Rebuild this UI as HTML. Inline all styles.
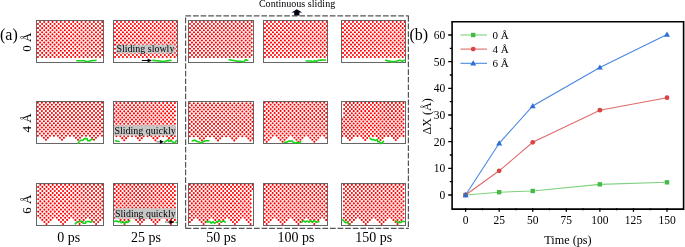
<!DOCTYPE html>
<html><head><meta charset="utf-8"><style>
html,body{margin:0;padding:0;background:#fff;}
body{width:685px;height:247px;overflow:hidden;}
svg{display:block;will-change:transform;font-family:"Liberation Serif", serif;}
</style></head><body>
<svg width="685" height="247" viewBox="0 0 685 247">
<style>.d{fill:none;stroke:#f00;stroke-width:2.1;stroke-linecap:round}.g{fill:none;stroke:#18d418;stroke-width:1.6;stroke-dasharray:1.8 0.6;stroke-linecap:round;stroke-linejoin:round}</style>
<rect x="36.5" y="20.5" width="67" height="42" fill="#fff"/>
<path class="d" d="M38 57h0M42.14 57h0M46.28 57h0M50.42 57h0M54.56 57h0M58.7 57h0M62.84 57h0M66.98 57h0M71.12 57h0M75.26 57h0M79.4 57h0M83.54 57h0M87.68 57h0M91.82 57h0M95.96 57h0M100.1 57h0M40.07 54.94h0M44.21 54.94h0M48.35 54.94h0M52.49 54.94h0M56.63 54.94h0M60.77 54.94h0M64.91 54.94h0M69.05 54.94h0M73.19 54.94h0M77.33 54.94h0M81.47 54.94h0M85.61 54.94h0M89.75 54.94h0M93.89 54.94h0M98.03 54.94h0M102.17 54.94h0M38 52.88h0M42.14 52.88h0M46.28 52.88h0M50.42 52.88h0M54.56 52.88h0M58.7 52.88h0M62.84 52.88h0M66.98 52.88h0M71.12 52.88h0M75.26 52.88h0M79.4 52.88h0M83.54 52.88h0M87.68 52.88h0M91.82 52.88h0M95.96 52.88h0M100.1 52.88h0M40.07 50.82h0M44.21 50.82h0M48.35 50.82h0M52.49 50.82h0M56.63 50.82h0M60.77 50.82h0M64.91 50.82h0M69.05 50.82h0M73.19 50.82h0M77.33 50.82h0M81.47 50.82h0M85.61 50.82h0M89.75 50.82h0M93.89 50.82h0M98.03 50.82h0M102.17 50.82h0M38 48.76h0M42.14 48.76h0M46.28 48.76h0M50.42 48.76h0M54.56 48.76h0M58.7 48.76h0M62.84 48.76h0M66.98 48.76h0M71.12 48.76h0M75.26 48.76h0M79.4 48.76h0M83.54 48.76h0M87.68 48.76h0M91.82 48.76h0M95.96 48.76h0M100.1 48.76h0M40.07 46.7h0M44.21 46.7h0M48.35 46.7h0M52.49 46.7h0M56.63 46.7h0M60.77 46.7h0M64.91 46.7h0M69.05 46.7h0M73.19 46.7h0M77.33 46.7h0M81.47 46.7h0M85.61 46.7h0M89.75 46.7h0M93.89 46.7h0M98.03 46.7h0M102.17 46.7h0M38 44.64h0M42.14 44.64h0M46.28 44.64h0M50.42 44.64h0M54.56 44.64h0M58.7 44.64h0M62.84 44.64h0M66.98 44.64h0M71.12 44.64h0M75.26 44.64h0M79.4 44.64h0M83.54 44.64h0M87.68 44.64h0M91.82 44.64h0M95.96 44.64h0M100.1 44.64h0M40.07 42.58h0M44.21 42.58h0M48.35 42.58h0M52.49 42.58h0M56.63 42.58h0M60.77 42.58h0M64.91 42.58h0M69.05 42.58h0M73.19 42.58h0M77.33 42.58h0M81.47 42.58h0M85.61 42.58h0M89.75 42.58h0M93.89 42.58h0M98.03 42.58h0M102.17 42.58h0M38 40.52h0M42.14 40.52h0M46.28 40.52h0M50.42 40.52h0M54.56 40.52h0M58.7 40.52h0M62.84 40.52h0M66.98 40.52h0M71.12 40.52h0M75.26 40.52h0M79.4 40.52h0M83.54 40.52h0M87.68 40.52h0M91.82 40.52h0M95.96 40.52h0M100.1 40.52h0M40.07 38.46h0M44.21 38.46h0M48.35 38.46h0M52.49 38.46h0M56.63 38.46h0M60.77 38.46h0M64.91 38.46h0M69.05 38.46h0M73.19 38.46h0M77.33 38.46h0M81.47 38.46h0M85.61 38.46h0M89.75 38.46h0M93.89 38.46h0M98.03 38.46h0M102.17 38.46h0M38 36.4h0M42.14 36.4h0M46.28 36.4h0M50.42 36.4h0M54.56 36.4h0M58.7 36.4h0M62.84 36.4h0M66.98 36.4h0M71.12 36.4h0M75.26 36.4h0M79.4 36.4h0M83.54 36.4h0M87.68 36.4h0M91.82 36.4h0M95.96 36.4h0M100.1 36.4h0M40.07 34.34h0M44.21 34.34h0M48.35 34.34h0M52.49 34.34h0M56.63 34.34h0M60.77 34.34h0M64.91 34.34h0M69.05 34.34h0M73.19 34.34h0M77.33 34.34h0M81.47 34.34h0M85.61 34.34h0M89.75 34.34h0M93.89 34.34h0M98.03 34.34h0M102.17 34.34h0M38 32.28h0M42.14 32.28h0M46.28 32.28h0M50.42 32.28h0M54.56 32.28h0M58.7 32.28h0M62.84 32.28h0M66.98 32.28h0M71.12 32.28h0M75.26 32.28h0M79.4 32.28h0M83.54 32.28h0M87.68 32.28h0M91.82 32.28h0M95.96 32.28h0M100.1 32.28h0M40.07 30.22h0M44.21 30.22h0M48.35 30.22h0M52.49 30.22h0M56.63 30.22h0M60.77 30.22h0M64.91 30.22h0M69.05 30.22h0M73.19 30.22h0M77.33 30.22h0M81.47 30.22h0M85.61 30.22h0M89.75 30.22h0M93.89 30.22h0M98.03 30.22h0M102.17 30.22h0M38 28.16h0M42.14 28.16h0M46.28 28.16h0M50.42 28.16h0M54.56 28.16h0M58.7 28.16h0M62.84 28.16h0M66.98 28.16h0M71.12 28.16h0M75.26 28.16h0M79.4 28.16h0M83.54 28.16h0M87.68 28.16h0M91.82 28.16h0M95.96 28.16h0M100.1 28.16h0M40.07 26.1h0M44.21 26.1h0M48.35 26.1h0M52.49 26.1h0M56.63 26.1h0M60.77 26.1h0M64.91 26.1h0M69.05 26.1h0M73.19 26.1h0M77.33 26.1h0M81.47 26.1h0M85.61 26.1h0M89.75 26.1h0M93.89 26.1h0M98.03 26.1h0M102.17 26.1h0M38 24.04h0M42.14 24.04h0M46.28 24.04h0M50.42 24.04h0M54.56 24.04h0M58.7 24.04h0M62.84 24.04h0M66.98 24.04h0M71.12 24.04h0M75.26 24.04h0M79.4 24.04h0M83.54 24.04h0M87.68 24.04h0M91.82 24.04h0M95.96 24.04h0M100.1 24.04h0M40.07 21.98h0M44.21 21.98h0M48.35 21.98h0M52.49 21.98h0M56.63 21.98h0M60.77 21.98h0M64.91 21.98h0M69.05 21.98h0M73.19 21.98h0M77.33 21.98h0M81.47 21.98h0M85.61 21.98h0M89.75 21.98h0M93.89 21.98h0M98.03 21.98h0M102.17 21.98h0"/>
<rect x="36.5" y="20.5" width="67" height="42" fill="none" stroke="#666" stroke-width="1"/>
<rect x="113.5" y="20.5" width="64" height="42" fill="#fff"/>
<path class="d" d="M115 57h0M118.98 57h0M122.96 57h0M126.94 57h0M130.92 57h0M134.9 57h0M138.88 57h0M142.86 57h0M146.84 57h0M150.82 57h0M154.8 57h0M158.78 57h0M162.76 57h0M166.74 57h0M170.72 57h0M174.7 57h0M116.99 54.94h0M120.97 54.94h0M124.95 54.94h0M128.93 54.94h0M132.91 54.94h0M136.89 54.94h0M140.87 54.94h0M144.85 54.94h0M148.83 54.94h0M152.81 54.94h0M156.79 54.94h0M160.77 54.94h0M164.75 54.94h0M168.73 54.94h0M172.71 54.94h0M176.69 54.94h0M115 52.88h0M118.98 52.88h0M122.96 52.88h0M126.94 52.88h0M130.92 52.88h0M134.9 52.88h0M138.88 52.88h0M142.86 52.88h0M146.84 52.88h0M150.82 52.88h0M154.8 52.88h0M158.78 52.88h0M162.76 52.88h0M166.74 52.88h0M170.72 52.88h0M174.7 52.88h0M116.99 50.82h0M120.97 50.82h0M124.95 50.82h0M128.93 50.82h0M132.91 50.82h0M136.89 50.82h0M140.87 50.82h0M144.85 50.82h0M148.83 50.82h0M152.81 50.82h0M156.79 50.82h0M160.77 50.82h0M164.75 50.82h0M168.73 50.82h0M172.71 50.82h0M176.69 50.82h0M115 48.76h0M118.98 48.76h0M122.96 48.76h0M126.94 48.76h0M130.92 48.76h0M134.9 48.76h0M138.88 48.76h0M142.86 48.76h0M146.84 48.76h0M150.82 48.76h0M154.8 48.76h0M158.78 48.76h0M162.76 48.76h0M166.74 48.76h0M170.72 48.76h0M174.7 48.76h0M116.99 46.7h0M120.97 46.7h0M124.95 46.7h0M128.93 46.7h0M132.91 46.7h0M136.89 46.7h0M140.87 46.7h0M144.85 46.7h0M148.83 46.7h0M152.81 46.7h0M156.79 46.7h0M160.77 46.7h0M164.75 46.7h0M168.73 46.7h0M172.71 46.7h0M176.69 46.7h0M115 44.64h0M118.98 44.64h0M122.96 44.64h0M126.94 44.64h0M130.92 44.64h0M134.9 44.64h0M138.88 44.64h0M142.86 44.64h0M146.84 44.64h0M150.82 44.64h0M154.8 44.64h0M158.78 44.64h0M162.76 44.64h0M166.74 44.64h0M170.72 44.64h0M174.7 44.64h0M116.99 42.58h0M120.97 42.58h0M124.95 42.58h0M128.93 42.58h0M132.91 42.58h0M136.89 42.58h0M140.87 42.58h0M144.85 42.58h0M148.83 42.58h0M152.81 42.58h0M156.79 42.58h0M160.77 42.58h0M164.75 42.58h0M168.73 42.58h0M172.71 42.58h0M176.69 42.58h0M115 40.52h0M118.98 40.52h0M122.96 40.52h0M126.94 40.52h0M130.92 40.52h0M134.9 40.52h0M138.88 40.52h0M142.86 40.52h0M146.84 40.52h0M150.82 40.52h0M154.8 40.52h0M158.78 40.52h0M162.76 40.52h0M166.74 40.52h0M170.72 40.52h0M174.7 40.52h0M116.99 38.46h0M120.97 38.46h0M124.95 38.46h0M128.93 38.46h0M132.91 38.46h0M136.89 38.46h0M140.87 38.46h0M144.85 38.46h0M148.83 38.46h0M152.81 38.46h0M156.79 38.46h0M160.77 38.46h0M164.75 38.46h0M168.73 38.46h0M172.71 38.46h0M176.69 38.46h0M115 36.4h0M118.98 36.4h0M122.96 36.4h0M126.94 36.4h0M130.92 36.4h0M134.9 36.4h0M138.88 36.4h0M142.86 36.4h0M146.84 36.4h0M150.82 36.4h0M154.8 36.4h0M158.78 36.4h0M162.76 36.4h0M166.74 36.4h0M170.72 36.4h0M174.7 36.4h0M116.99 34.34h0M120.97 34.34h0M124.95 34.34h0M128.93 34.34h0M132.91 34.34h0M136.89 34.34h0M140.87 34.34h0M144.85 34.34h0M148.83 34.34h0M152.81 34.34h0M156.79 34.34h0M160.77 34.34h0M164.75 34.34h0M168.73 34.34h0M172.71 34.34h0M176.69 34.34h0M115 32.28h0M118.98 32.28h0M122.96 32.28h0M126.94 32.28h0M130.92 32.28h0M134.9 32.28h0M138.88 32.28h0M142.86 32.28h0M146.84 32.28h0M150.82 32.28h0M154.8 32.28h0M158.78 32.28h0M162.76 32.28h0M166.74 32.28h0M170.72 32.28h0M174.7 32.28h0M116.99 30.22h0M120.97 30.22h0M124.95 30.22h0M128.93 30.22h0M132.91 30.22h0M136.89 30.22h0M140.87 30.22h0M144.85 30.22h0M148.83 30.22h0M152.81 30.22h0M156.79 30.22h0M160.77 30.22h0M164.75 30.22h0M168.73 30.22h0M172.71 30.22h0M176.69 30.22h0M115 28.16h0M118.98 28.16h0M122.96 28.16h0M126.94 28.16h0M130.92 28.16h0M134.9 28.16h0M138.88 28.16h0M142.86 28.16h0M146.84 28.16h0M150.82 28.16h0M154.8 28.16h0M158.78 28.16h0M162.76 28.16h0M166.74 28.16h0M170.72 28.16h0M174.7 28.16h0M116.99 26.1h0M120.97 26.1h0M124.95 26.1h0M128.93 26.1h0M132.91 26.1h0M136.89 26.1h0M140.87 26.1h0M144.85 26.1h0M148.83 26.1h0M152.81 26.1h0M156.79 26.1h0M160.77 26.1h0M164.75 26.1h0M168.73 26.1h0M172.71 26.1h0M176.69 26.1h0M115 24.04h0M118.98 24.04h0M122.96 24.04h0M126.94 24.04h0M130.92 24.04h0M134.9 24.04h0M138.88 24.04h0M142.86 24.04h0M146.84 24.04h0M150.82 24.04h0M154.8 24.04h0M158.78 24.04h0M162.76 24.04h0M166.74 24.04h0M170.72 24.04h0M174.7 24.04h0M116.99 21.98h0M120.97 21.98h0M124.95 21.98h0M128.93 21.98h0M132.91 21.98h0M136.89 21.98h0M140.87 21.98h0M144.85 21.98h0M148.83 21.98h0M152.81 21.98h0M156.79 21.98h0M160.77 21.98h0M164.75 21.98h0M168.73 21.98h0M172.71 21.98h0M176.69 21.98h0"/>
<rect x="113.5" y="20.5" width="64" height="42" fill="none" stroke="#666" stroke-width="1"/>
<rect x="188.5" y="20.5" width="65" height="42" fill="#fff"/>
<path class="d" d="M190 57h0M193.98 57h0M197.96 57h0M201.94 57h0M205.92 57h0M209.9 57h0M213.88 57h0M217.86 57h0M221.84 57h0M225.82 57h0M229.8 57h0M233.78 57h0M237.76 57h0M241.74 57h0M245.72 57h0M249.7 57h0M191.99 54.94h0M195.97 54.94h0M199.95 54.94h0M203.93 54.94h0M207.91 54.94h0M211.89 54.94h0M215.87 54.94h0M219.85 54.94h0M223.83 54.94h0M227.81 54.94h0M231.79 54.94h0M235.77 54.94h0M239.75 54.94h0M243.73 54.94h0M247.71 54.94h0M251.69 54.94h0M190 52.88h0M193.98 52.88h0M197.96 52.88h0M201.94 52.88h0M205.92 52.88h0M209.9 52.88h0M213.88 52.88h0M217.86 52.88h0M221.84 52.88h0M225.82 52.88h0M229.8 52.88h0M233.78 52.88h0M237.76 52.88h0M241.74 52.88h0M245.72 52.88h0M249.7 52.88h0M191.99 50.82h0M195.97 50.82h0M199.95 50.82h0M203.93 50.82h0M207.91 50.82h0M211.89 50.82h0M215.87 50.82h0M219.85 50.82h0M223.83 50.82h0M227.81 50.82h0M231.79 50.82h0M235.77 50.82h0M239.75 50.82h0M243.73 50.82h0M247.71 50.82h0M251.69 50.82h0M190 48.76h0M193.98 48.76h0M197.96 48.76h0M201.94 48.76h0M205.92 48.76h0M209.9 48.76h0M213.88 48.76h0M217.86 48.76h0M221.84 48.76h0M225.82 48.76h0M229.8 48.76h0M233.78 48.76h0M237.76 48.76h0M241.74 48.76h0M245.72 48.76h0M249.7 48.76h0M191.99 46.7h0M195.97 46.7h0M199.95 46.7h0M203.93 46.7h0M207.91 46.7h0M211.89 46.7h0M215.87 46.7h0M219.85 46.7h0M223.83 46.7h0M227.81 46.7h0M231.79 46.7h0M235.77 46.7h0M239.75 46.7h0M243.73 46.7h0M247.71 46.7h0M251.69 46.7h0M190 44.64h0M193.98 44.64h0M197.96 44.64h0M201.94 44.64h0M205.92 44.64h0M209.9 44.64h0M213.88 44.64h0M217.86 44.64h0M221.84 44.64h0M225.82 44.64h0M229.8 44.64h0M233.78 44.64h0M237.76 44.64h0M241.74 44.64h0M245.72 44.64h0M249.7 44.64h0M191.99 42.58h0M195.97 42.58h0M199.95 42.58h0M203.93 42.58h0M207.91 42.58h0M211.89 42.58h0M215.87 42.58h0M219.85 42.58h0M223.83 42.58h0M227.81 42.58h0M231.79 42.58h0M235.77 42.58h0M239.75 42.58h0M243.73 42.58h0M247.71 42.58h0M251.69 42.58h0M190 40.52h0M193.98 40.52h0M197.96 40.52h0M201.94 40.52h0M205.92 40.52h0M209.9 40.52h0M213.88 40.52h0M217.86 40.52h0M221.84 40.52h0M225.82 40.52h0M229.8 40.52h0M233.78 40.52h0M237.76 40.52h0M241.74 40.52h0M245.72 40.52h0M249.7 40.52h0M191.99 38.46h0M195.97 38.46h0M199.95 38.46h0M203.93 38.46h0M207.91 38.46h0M211.89 38.46h0M215.87 38.46h0M219.85 38.46h0M223.83 38.46h0M227.81 38.46h0M231.79 38.46h0M235.77 38.46h0M239.75 38.46h0M243.73 38.46h0M247.71 38.46h0M251.69 38.46h0M190 36.4h0M193.98 36.4h0M197.96 36.4h0M201.94 36.4h0M205.92 36.4h0M209.9 36.4h0M213.88 36.4h0M217.86 36.4h0M221.84 36.4h0M225.82 36.4h0M229.8 36.4h0M233.78 36.4h0M237.76 36.4h0M241.74 36.4h0M245.72 36.4h0M249.7 36.4h0M191.99 34.34h0M195.97 34.34h0M199.95 34.34h0M203.93 34.34h0M207.91 34.34h0M211.89 34.34h0M215.87 34.34h0M219.85 34.34h0M223.83 34.34h0M227.81 34.34h0M231.79 34.34h0M235.77 34.34h0M239.75 34.34h0M243.73 34.34h0M247.71 34.34h0M251.69 34.34h0M190 32.28h0M193.98 32.28h0M197.96 32.28h0M201.94 32.28h0M205.92 32.28h0M209.9 32.28h0M213.88 32.28h0M217.86 32.28h0M221.84 32.28h0M225.82 32.28h0M229.8 32.28h0M233.78 32.28h0M237.76 32.28h0M241.74 32.28h0M245.72 32.28h0M249.7 32.28h0M191.99 30.22h0M195.97 30.22h0M199.95 30.22h0M203.93 30.22h0M207.91 30.22h0M211.89 30.22h0M215.87 30.22h0M219.85 30.22h0M223.83 30.22h0M227.81 30.22h0M231.79 30.22h0M235.77 30.22h0M239.75 30.22h0M243.73 30.22h0M247.71 30.22h0M251.69 30.22h0M190 28.16h0M193.98 28.16h0M197.96 28.16h0M201.94 28.16h0M205.92 28.16h0M209.9 28.16h0M213.88 28.16h0M217.86 28.16h0M221.84 28.16h0M225.82 28.16h0M229.8 28.16h0M233.78 28.16h0M237.76 28.16h0M241.74 28.16h0M245.72 28.16h0M249.7 28.16h0M191.99 26.1h0M195.97 26.1h0M199.95 26.1h0M203.93 26.1h0M207.91 26.1h0M211.89 26.1h0M215.87 26.1h0M219.85 26.1h0M223.83 26.1h0M227.81 26.1h0M231.79 26.1h0M235.77 26.1h0M239.75 26.1h0M243.73 26.1h0M247.71 26.1h0M251.69 26.1h0M190 24.04h0M193.98 24.04h0M197.96 24.04h0M201.94 24.04h0M205.92 24.04h0M209.9 24.04h0M213.88 24.04h0M217.86 24.04h0M221.84 24.04h0M225.82 24.04h0M229.8 24.04h0M233.78 24.04h0M237.76 24.04h0M241.74 24.04h0M245.72 24.04h0M249.7 24.04h0M191.99 21.98h0M195.97 21.98h0M199.95 21.98h0M203.93 21.98h0M207.91 21.98h0M211.89 21.98h0M215.87 21.98h0M219.85 21.98h0M223.83 21.98h0M227.81 21.98h0M231.79 21.98h0M235.77 21.98h0M239.75 21.98h0M243.73 21.98h0M247.71 21.98h0M251.69 21.98h0"/>
<rect x="188.5" y="20.5" width="65" height="42" fill="none" stroke="#666" stroke-width="1"/>
<rect x="263.5" y="20.5" width="64" height="42" fill="#fff"/>
<path class="d" d="M265 57h0M268.98 57h0M272.96 57h0M276.94 57h0M280.92 57h0M284.9 57h0M288.88 57h0M292.86 57h0M296.84 57h0M300.82 57h0M304.8 57h0M308.78 57h0M312.76 57h0M316.74 57h0M320.72 57h0M324.7 57h0M266.99 54.94h0M270.97 54.94h0M274.95 54.94h0M278.93 54.94h0M282.91 54.94h0M286.89 54.94h0M290.87 54.94h0M294.85 54.94h0M298.83 54.94h0M302.81 54.94h0M306.79 54.94h0M310.77 54.94h0M314.75 54.94h0M318.73 54.94h0M322.71 54.94h0M326.69 54.94h0M265 52.88h0M268.98 52.88h0M272.96 52.88h0M276.94 52.88h0M280.92 52.88h0M284.9 52.88h0M288.88 52.88h0M292.86 52.88h0M296.84 52.88h0M300.82 52.88h0M304.8 52.88h0M308.78 52.88h0M312.76 52.88h0M316.74 52.88h0M320.72 52.88h0M324.7 52.88h0M266.99 50.82h0M270.97 50.82h0M274.95 50.82h0M278.93 50.82h0M282.91 50.82h0M286.89 50.82h0M290.87 50.82h0M294.85 50.82h0M298.83 50.82h0M302.81 50.82h0M306.79 50.82h0M310.77 50.82h0M314.75 50.82h0M318.73 50.82h0M322.71 50.82h0M326.69 50.82h0M265 48.76h0M268.98 48.76h0M272.96 48.76h0M276.94 48.76h0M280.92 48.76h0M284.9 48.76h0M288.88 48.76h0M292.86 48.76h0M296.84 48.76h0M300.82 48.76h0M304.8 48.76h0M308.78 48.76h0M312.76 48.76h0M316.74 48.76h0M320.72 48.76h0M324.7 48.76h0M266.99 46.7h0M270.97 46.7h0M274.95 46.7h0M278.93 46.7h0M282.91 46.7h0M286.89 46.7h0M290.87 46.7h0M294.85 46.7h0M298.83 46.7h0M302.81 46.7h0M306.79 46.7h0M310.77 46.7h0M314.75 46.7h0M318.73 46.7h0M322.71 46.7h0M326.69 46.7h0M265 44.64h0M268.98 44.64h0M272.96 44.64h0M276.94 44.64h0M280.92 44.64h0M284.9 44.64h0M288.88 44.64h0M292.86 44.64h0M296.84 44.64h0M300.82 44.64h0M304.8 44.64h0M308.78 44.64h0M312.76 44.64h0M316.74 44.64h0M320.72 44.64h0M324.7 44.64h0M266.99 42.58h0M270.97 42.58h0M274.95 42.58h0M278.93 42.58h0M282.91 42.58h0M286.89 42.58h0M290.87 42.58h0M294.85 42.58h0M298.83 42.58h0M302.81 42.58h0M306.79 42.58h0M310.77 42.58h0M314.75 42.58h0M318.73 42.58h0M322.71 42.58h0M326.69 42.58h0M265 40.52h0M268.98 40.52h0M272.96 40.52h0M276.94 40.52h0M280.92 40.52h0M284.9 40.52h0M288.88 40.52h0M292.86 40.52h0M296.84 40.52h0M300.82 40.52h0M304.8 40.52h0M308.78 40.52h0M312.76 40.52h0M316.74 40.52h0M320.72 40.52h0M324.7 40.52h0M266.99 38.46h0M270.97 38.46h0M274.95 38.46h0M278.93 38.46h0M282.91 38.46h0M286.89 38.46h0M290.87 38.46h0M294.85 38.46h0M298.83 38.46h0M302.81 38.46h0M306.79 38.46h0M310.77 38.46h0M314.75 38.46h0M318.73 38.46h0M322.71 38.46h0M326.69 38.46h0M265 36.4h0M268.98 36.4h0M272.96 36.4h0M276.94 36.4h0M280.92 36.4h0M284.9 36.4h0M288.88 36.4h0M292.86 36.4h0M296.84 36.4h0M300.82 36.4h0M304.8 36.4h0M308.78 36.4h0M312.76 36.4h0M316.74 36.4h0M320.72 36.4h0M324.7 36.4h0M266.99 34.34h0M270.97 34.34h0M274.95 34.34h0M278.93 34.34h0M282.91 34.34h0M286.89 34.34h0M290.87 34.34h0M294.85 34.34h0M298.83 34.34h0M302.81 34.34h0M306.79 34.34h0M310.77 34.34h0M314.75 34.34h0M318.73 34.34h0M322.71 34.34h0M326.69 34.34h0M265 32.28h0M268.98 32.28h0M272.96 32.28h0M276.94 32.28h0M280.92 32.28h0M284.9 32.28h0M288.88 32.28h0M292.86 32.28h0M296.84 32.28h0M300.82 32.28h0M304.8 32.28h0M308.78 32.28h0M312.76 32.28h0M316.74 32.28h0M320.72 32.28h0M324.7 32.28h0M266.99 30.22h0M270.97 30.22h0M274.95 30.22h0M278.93 30.22h0M282.91 30.22h0M286.89 30.22h0M290.87 30.22h0M294.85 30.22h0M298.83 30.22h0M302.81 30.22h0M306.79 30.22h0M310.77 30.22h0M314.75 30.22h0M318.73 30.22h0M322.71 30.22h0M326.69 30.22h0M265 28.16h0M268.98 28.16h0M272.96 28.16h0M276.94 28.16h0M280.92 28.16h0M284.9 28.16h0M288.88 28.16h0M292.86 28.16h0M296.84 28.16h0M300.82 28.16h0M304.8 28.16h0M308.78 28.16h0M312.76 28.16h0M316.74 28.16h0M320.72 28.16h0M324.7 28.16h0M266.99 26.1h0M270.97 26.1h0M274.95 26.1h0M278.93 26.1h0M282.91 26.1h0M286.89 26.1h0M290.87 26.1h0M294.85 26.1h0M298.83 26.1h0M302.81 26.1h0M306.79 26.1h0M310.77 26.1h0M314.75 26.1h0M318.73 26.1h0M322.71 26.1h0M326.69 26.1h0M265 24.04h0M268.98 24.04h0M272.96 24.04h0M276.94 24.04h0M280.92 24.04h0M284.9 24.04h0M288.88 24.04h0M292.86 24.04h0M296.84 24.04h0M300.82 24.04h0M304.8 24.04h0M308.78 24.04h0M312.76 24.04h0M316.74 24.04h0M320.72 24.04h0M324.7 24.04h0M266.99 21.98h0M270.97 21.98h0M274.95 21.98h0M278.93 21.98h0M282.91 21.98h0M286.89 21.98h0M290.87 21.98h0M294.85 21.98h0M298.83 21.98h0M302.81 21.98h0M306.79 21.98h0M310.77 21.98h0M314.75 21.98h0M318.73 21.98h0M322.71 21.98h0M326.69 21.98h0"/>
<rect x="263.5" y="20.5" width="64" height="42" fill="none" stroke="#666" stroke-width="1"/>
<rect x="341.5" y="20.5" width="64" height="42" fill="#fff"/>
<path class="d" d="M343 57h0M346.98 57h0M350.96 57h0M354.94 57h0M358.92 57h0M362.9 57h0M366.88 57h0M370.86 57h0M374.84 57h0M378.82 57h0M382.8 57h0M386.78 57h0M390.76 57h0M394.74 57h0M398.72 57h0M402.7 57h0M344.99 54.94h0M348.97 54.94h0M352.95 54.94h0M356.93 54.94h0M360.91 54.94h0M364.89 54.94h0M368.87 54.94h0M372.85 54.94h0M376.83 54.94h0M380.81 54.94h0M384.79 54.94h0M388.77 54.94h0M392.75 54.94h0M396.73 54.94h0M400.71 54.94h0M404.69 54.94h0M343 52.88h0M346.98 52.88h0M350.96 52.88h0M354.94 52.88h0M358.92 52.88h0M362.9 52.88h0M366.88 52.88h0M370.86 52.88h0M374.84 52.88h0M378.82 52.88h0M382.8 52.88h0M386.78 52.88h0M390.76 52.88h0M394.74 52.88h0M398.72 52.88h0M402.7 52.88h0M344.99 50.82h0M348.97 50.82h0M352.95 50.82h0M356.93 50.82h0M360.91 50.82h0M364.89 50.82h0M368.87 50.82h0M372.85 50.82h0M376.83 50.82h0M380.81 50.82h0M384.79 50.82h0M388.77 50.82h0M392.75 50.82h0M396.73 50.82h0M400.71 50.82h0M404.69 50.82h0M343 48.76h0M346.98 48.76h0M350.96 48.76h0M354.94 48.76h0M358.92 48.76h0M362.9 48.76h0M366.88 48.76h0M370.86 48.76h0M374.84 48.76h0M378.82 48.76h0M382.8 48.76h0M386.78 48.76h0M390.76 48.76h0M394.74 48.76h0M398.72 48.76h0M402.7 48.76h0M344.99 46.7h0M348.97 46.7h0M352.95 46.7h0M356.93 46.7h0M360.91 46.7h0M364.89 46.7h0M368.87 46.7h0M372.85 46.7h0M376.83 46.7h0M380.81 46.7h0M384.79 46.7h0M388.77 46.7h0M392.75 46.7h0M396.73 46.7h0M400.71 46.7h0M404.69 46.7h0M343 44.64h0M346.98 44.64h0M350.96 44.64h0M354.94 44.64h0M358.92 44.64h0M362.9 44.64h0M366.88 44.64h0M370.86 44.64h0M374.84 44.64h0M378.82 44.64h0M382.8 44.64h0M386.78 44.64h0M390.76 44.64h0M394.74 44.64h0M398.72 44.64h0M402.7 44.64h0M344.99 42.58h0M348.97 42.58h0M352.95 42.58h0M356.93 42.58h0M360.91 42.58h0M364.89 42.58h0M368.87 42.58h0M372.85 42.58h0M376.83 42.58h0M380.81 42.58h0M384.79 42.58h0M388.77 42.58h0M392.75 42.58h0M396.73 42.58h0M400.71 42.58h0M404.69 42.58h0M343 40.52h0M346.98 40.52h0M350.96 40.52h0M354.94 40.52h0M358.92 40.52h0M362.9 40.52h0M366.88 40.52h0M370.86 40.52h0M374.84 40.52h0M378.82 40.52h0M382.8 40.52h0M386.78 40.52h0M390.76 40.52h0M394.74 40.52h0M398.72 40.52h0M402.7 40.52h0M344.99 38.46h0M348.97 38.46h0M352.95 38.46h0M356.93 38.46h0M360.91 38.46h0M364.89 38.46h0M368.87 38.46h0M372.85 38.46h0M376.83 38.46h0M380.81 38.46h0M384.79 38.46h0M388.77 38.46h0M392.75 38.46h0M396.73 38.46h0M400.71 38.46h0M404.69 38.46h0M343 36.4h0M346.98 36.4h0M350.96 36.4h0M354.94 36.4h0M358.92 36.4h0M362.9 36.4h0M366.88 36.4h0M370.86 36.4h0M374.84 36.4h0M378.82 36.4h0M382.8 36.4h0M386.78 36.4h0M390.76 36.4h0M394.74 36.4h0M398.72 36.4h0M402.7 36.4h0M344.99 34.34h0M348.97 34.34h0M352.95 34.34h0M356.93 34.34h0M360.91 34.34h0M364.89 34.34h0M368.87 34.34h0M372.85 34.34h0M376.83 34.34h0M380.81 34.34h0M384.79 34.34h0M388.77 34.34h0M392.75 34.34h0M396.73 34.34h0M400.71 34.34h0M404.69 34.34h0M343 32.28h0M346.98 32.28h0M350.96 32.28h0M354.94 32.28h0M358.92 32.28h0M362.9 32.28h0M366.88 32.28h0M370.86 32.28h0M374.84 32.28h0M378.82 32.28h0M382.8 32.28h0M386.78 32.28h0M390.76 32.28h0M394.74 32.28h0M398.72 32.28h0M402.7 32.28h0M344.99 30.22h0M348.97 30.22h0M352.95 30.22h0M356.93 30.22h0M360.91 30.22h0M364.89 30.22h0M368.87 30.22h0M372.85 30.22h0M376.83 30.22h0M380.81 30.22h0M384.79 30.22h0M388.77 30.22h0M392.75 30.22h0M396.73 30.22h0M400.71 30.22h0M404.69 30.22h0M343 28.16h0M346.98 28.16h0M350.96 28.16h0M354.94 28.16h0M358.92 28.16h0M362.9 28.16h0M366.88 28.16h0M370.86 28.16h0M374.84 28.16h0M378.82 28.16h0M382.8 28.16h0M386.78 28.16h0M390.76 28.16h0M394.74 28.16h0M398.72 28.16h0M402.7 28.16h0M344.99 26.1h0M348.97 26.1h0M352.95 26.1h0M356.93 26.1h0M360.91 26.1h0M364.89 26.1h0M368.87 26.1h0M372.85 26.1h0M376.83 26.1h0M380.81 26.1h0M384.79 26.1h0M388.77 26.1h0M392.75 26.1h0M396.73 26.1h0M400.71 26.1h0M404.69 26.1h0M343 24.04h0M346.98 24.04h0M350.96 24.04h0M354.94 24.04h0M358.92 24.04h0M362.9 24.04h0M366.88 24.04h0M370.86 24.04h0M374.84 24.04h0M378.82 24.04h0M382.8 24.04h0M386.78 24.04h0M390.76 24.04h0M394.74 24.04h0M398.72 24.04h0M402.7 24.04h0M344.99 21.98h0M348.97 21.98h0M352.95 21.98h0M356.93 21.98h0M360.91 21.98h0M364.89 21.98h0M368.87 21.98h0M372.85 21.98h0M376.83 21.98h0M380.81 21.98h0M384.79 21.98h0M388.77 21.98h0M392.75 21.98h0M396.73 21.98h0M400.71 21.98h0M404.69 21.98h0"/>
<rect x="341.5" y="20.5" width="64" height="42" fill="none" stroke="#666" stroke-width="1"/>
<rect x="36.5" y="101.5" width="67" height="42" fill="#fff"/>
<path class="d" d="M45.9 139.8h0M61.93 139.8h0M77.97 139.8h0M94 139.8h0M43.9 137.74h0M47.9 137.74h0M59.93 137.74h0M63.94 137.74h0M75.96 137.74h0M79.97 137.74h0M92 137.74h0M96 137.74h0M37.88 135.68h0M41.89 135.68h0M45.9 135.68h0M49.91 135.68h0M53.92 135.68h0M57.92 135.68h0M61.93 135.68h0M65.94 135.68h0M69.95 135.68h0M73.96 135.68h0M77.97 135.68h0M81.97 135.68h0M85.98 135.68h0M89.99 135.68h0M94 135.68h0M98.01 135.68h0M102.02 135.68h0M39.89 133.62h0M43.9 133.62h0M47.9 133.62h0M51.91 133.62h0M55.92 133.62h0M59.93 133.62h0M63.94 133.62h0M67.95 133.62h0M71.95 133.62h0M75.96 133.62h0M79.97 133.62h0M83.98 133.62h0M87.99 133.62h0M92 133.62h0M96 133.62h0M100.01 133.62h0M37.88 131.56h0M41.89 131.56h0M45.9 131.56h0M49.91 131.56h0M53.92 131.56h0M57.92 131.56h0M61.93 131.56h0M65.94 131.56h0M69.95 131.56h0M73.96 131.56h0M77.97 131.56h0M81.97 131.56h0M85.98 131.56h0M89.99 131.56h0M94 131.56h0M98.01 131.56h0M102.02 131.56h0M39.89 129.5h0M43.9 129.5h0M47.9 129.5h0M51.91 129.5h0M55.92 129.5h0M59.93 129.5h0M63.94 129.5h0M67.95 129.5h0M71.95 129.5h0M75.96 129.5h0M79.97 129.5h0M83.98 129.5h0M87.99 129.5h0M92 129.5h0M96 129.5h0M100.01 129.5h0M37.88 127.44h0M41.89 127.44h0M45.9 127.44h0M49.91 127.44h0M53.92 127.44h0M57.92 127.44h0M61.93 127.44h0M65.94 127.44h0M69.95 127.44h0M73.96 127.44h0M77.97 127.44h0M81.97 127.44h0M85.98 127.44h0M89.99 127.44h0M94 127.44h0M98.01 127.44h0M102.02 127.44h0M39.89 125.38h0M43.9 125.38h0M47.9 125.38h0M51.91 125.38h0M55.92 125.38h0M59.93 125.38h0M63.94 125.38h0M67.95 125.38h0M71.95 125.38h0M75.96 125.38h0M79.97 125.38h0M83.98 125.38h0M87.99 125.38h0M92 125.38h0M96 125.38h0M100.01 125.38h0M37.88 123.32h0M41.89 123.32h0M45.9 123.32h0M49.91 123.32h0M53.92 123.32h0M57.92 123.32h0M61.93 123.32h0M65.94 123.32h0M69.95 123.32h0M73.96 123.32h0M77.97 123.32h0M81.97 123.32h0M85.98 123.32h0M89.99 123.32h0M94 123.32h0M98.01 123.32h0M102.02 123.32h0M39.89 121.26h0M43.9 121.26h0M47.9 121.26h0M51.91 121.26h0M55.92 121.26h0M59.93 121.26h0M63.94 121.26h0M67.95 121.26h0M71.95 121.26h0M75.96 121.26h0M79.97 121.26h0M83.98 121.26h0M87.99 121.26h0M92 121.26h0M96 121.26h0M100.01 121.26h0M37.88 119.2h0M41.89 119.2h0M45.9 119.2h0M49.91 119.2h0M53.92 119.2h0M57.92 119.2h0M61.93 119.2h0M65.94 119.2h0M69.95 119.2h0M73.96 119.2h0M77.97 119.2h0M81.97 119.2h0M85.98 119.2h0M89.99 119.2h0M94 119.2h0M98.01 119.2h0M102.02 119.2h0M39.89 117.14h0M43.9 117.14h0M47.9 117.14h0M51.91 117.14h0M55.92 117.14h0M59.93 117.14h0M63.94 117.14h0M67.95 117.14h0M71.95 117.14h0M75.96 117.14h0M79.97 117.14h0M83.98 117.14h0M87.99 117.14h0M92 117.14h0M96 117.14h0M100.01 117.14h0M37.88 115.08h0M41.89 115.08h0M45.9 115.08h0M49.91 115.08h0M53.92 115.08h0M57.92 115.08h0M61.93 115.08h0M65.94 115.08h0M69.95 115.08h0M73.96 115.08h0M77.97 115.08h0M81.97 115.08h0M85.98 115.08h0M89.99 115.08h0M94 115.08h0M98.01 115.08h0M102.02 115.08h0M39.89 113.02h0M43.9 113.02h0M47.9 113.02h0M51.91 113.02h0M55.92 113.02h0M59.93 113.02h0M63.94 113.02h0M67.95 113.02h0M71.95 113.02h0M75.96 113.02h0M79.97 113.02h0M83.98 113.02h0M87.99 113.02h0M92 113.02h0M96 113.02h0M100.01 113.02h0M37.88 110.96h0M41.89 110.96h0M45.9 110.96h0M49.91 110.96h0M53.92 110.96h0M57.92 110.96h0M61.93 110.96h0M65.94 110.96h0M69.95 110.96h0M73.96 110.96h0M77.97 110.96h0M81.97 110.96h0M85.98 110.96h0M89.99 110.96h0M94 110.96h0M98.01 110.96h0M102.02 110.96h0M39.89 108.9h0M43.9 108.9h0M47.9 108.9h0M51.91 108.9h0M55.92 108.9h0M59.93 108.9h0M63.94 108.9h0M67.95 108.9h0M71.95 108.9h0M75.96 108.9h0M79.97 108.9h0M83.98 108.9h0M87.99 108.9h0M92 108.9h0M96 108.9h0M100.01 108.9h0M37.88 106.84h0M41.89 106.84h0M45.9 106.84h0M49.91 106.84h0M53.92 106.84h0M57.92 106.84h0M61.93 106.84h0M65.94 106.84h0M69.95 106.84h0M73.96 106.84h0M77.97 106.84h0M81.97 106.84h0M85.98 106.84h0M89.99 106.84h0M94 106.84h0M98.01 106.84h0M102.02 106.84h0M39.89 104.78h0M43.9 104.78h0M47.9 104.78h0M51.91 104.78h0M55.92 104.78h0M59.93 104.78h0M63.94 104.78h0M67.95 104.78h0M71.95 104.78h0M75.96 104.78h0M79.97 104.78h0M83.98 104.78h0M87.99 104.78h0M92 104.78h0M96 104.78h0M100.01 104.78h0M37.88 102.72h0M41.89 102.72h0M45.9 102.72h0M49.91 102.72h0M53.92 102.72h0M57.92 102.72h0M61.93 102.72h0M65.94 102.72h0M69.95 102.72h0M73.96 102.72h0M77.97 102.72h0M81.97 102.72h0M85.98 102.72h0M89.99 102.72h0M94 102.72h0M98.01 102.72h0M102.02 102.72h0"/>
<rect x="36.5" y="101.5" width="67" height="42" fill="none" stroke="#666" stroke-width="1"/>
<rect x="113.5" y="101.5" width="64" height="42" fill="#fff"/>
<path class="d" d="M124.2 140.2h0M139.8 140.2h0M155.4 140.2h0M171 140.2h0M122.25 138.14h0M126.15 138.14h0M137.85 138.14h0M141.75 138.14h0M153.45 138.14h0M157.35 138.14h0M169.05 138.14h0M172.95 138.14h0M116.4 136.08h0M120.3 136.08h0M124.2 136.08h0M128.1 136.08h0M132 136.08h0M135.9 136.08h0M139.8 136.08h0M143.7 136.08h0M147.6 136.08h0M151.5 136.08h0M155.4 136.08h0M159.3 136.08h0M163.2 136.08h0M167.1 136.08h0M171 136.08h0M174.9 136.08h0M114.45 134.02h0M118.35 134.02h0M122.25 134.02h0M126.15 134.02h0M130.05 134.02h0M133.95 134.02h0M137.85 134.02h0M141.75 134.02h0M145.65 134.02h0M149.55 134.02h0M153.45 134.02h0M157.35 134.02h0M161.25 134.02h0M165.15 134.02h0M169.05 134.02h0M172.95 134.02h0M116.4 131.96h0M120.3 131.96h0M124.2 131.96h0M128.1 131.96h0M132 131.96h0M135.9 131.96h0M139.8 131.96h0M143.7 131.96h0M147.6 131.96h0M151.5 131.96h0M155.4 131.96h0M159.3 131.96h0M163.2 131.96h0M167.1 131.96h0M171 131.96h0M174.9 131.96h0M114.45 129.9h0M118.35 129.9h0M122.25 129.9h0M126.15 129.9h0M130.05 129.9h0M133.95 129.9h0M137.85 129.9h0M141.75 129.9h0M145.65 129.9h0M149.55 129.9h0M153.45 129.9h0M157.35 129.9h0M161.25 129.9h0M165.15 129.9h0M169.05 129.9h0M172.95 129.9h0M116.4 127.84h0M120.3 127.84h0M124.2 127.84h0M128.1 127.84h0M132 127.84h0M135.9 127.84h0M139.8 127.84h0M143.7 127.84h0M147.6 127.84h0M151.5 127.84h0M155.4 127.84h0M159.3 127.84h0M163.2 127.84h0M167.1 127.84h0M171 127.84h0M174.9 127.84h0M114.45 125.78h0M118.35 125.78h0M122.25 125.78h0M126.15 125.78h0M130.05 125.78h0M133.95 125.78h0M137.85 125.78h0M141.75 125.78h0M145.65 125.78h0M149.55 125.78h0M153.45 125.78h0M157.35 125.78h0M161.25 125.78h0M165.15 125.78h0M169.05 125.78h0M172.95 125.78h0M116.4 123.72h0M120.3 123.72h0M124.2 123.72h0M128.1 123.72h0M132 123.72h0M135.9 123.72h0M139.8 123.72h0M143.7 123.72h0M147.6 123.72h0M151.5 123.72h0M155.4 123.72h0M159.3 123.72h0M163.2 123.72h0M167.1 123.72h0M171 123.72h0M174.9 123.72h0M114.45 121.66h0M118.35 121.66h0M122.25 121.66h0M126.15 121.66h0M130.05 121.66h0M133.95 121.66h0M137.85 121.66h0M141.75 121.66h0M145.65 121.66h0M149.55 121.66h0M153.45 121.66h0M157.35 121.66h0M161.25 121.66h0M165.15 121.66h0M169.05 121.66h0M172.95 121.66h0M116.4 119.6h0M120.3 119.6h0M124.2 119.6h0M128.1 119.6h0M132 119.6h0M135.9 119.6h0M139.8 119.6h0M143.7 119.6h0M147.6 119.6h0M151.5 119.6h0M155.4 119.6h0M159.3 119.6h0M163.2 119.6h0M167.1 119.6h0M171 119.6h0M174.9 119.6h0M114.45 117.54h0M118.35 117.54h0M122.25 117.54h0M126.15 117.54h0M130.05 117.54h0M133.95 117.54h0M137.85 117.54h0M141.75 117.54h0M145.65 117.54h0M149.55 117.54h0M153.45 117.54h0M157.35 117.54h0M161.25 117.54h0M165.15 117.54h0M169.05 117.54h0M172.95 117.54h0M116.4 115.48h0M120.3 115.48h0M124.2 115.48h0M128.1 115.48h0M132 115.48h0M135.9 115.48h0M139.8 115.48h0M143.7 115.48h0M147.6 115.48h0M151.5 115.48h0M155.4 115.48h0M159.3 115.48h0M163.2 115.48h0M167.1 115.48h0M171 115.48h0M174.9 115.48h0M114.45 113.42h0M118.35 113.42h0M122.25 113.42h0M126.15 113.42h0M130.05 113.42h0M133.95 113.42h0M137.85 113.42h0M141.75 113.42h0M145.65 113.42h0M149.55 113.42h0M153.45 113.42h0M157.35 113.42h0M161.25 113.42h0M165.15 113.42h0M169.05 113.42h0M172.95 113.42h0M116.4 111.36h0M120.3 111.36h0M124.2 111.36h0M128.1 111.36h0M132 111.36h0M135.9 111.36h0M139.8 111.36h0M143.7 111.36h0M147.6 111.36h0M151.5 111.36h0M155.4 111.36h0M159.3 111.36h0M163.2 111.36h0M167.1 111.36h0M171 111.36h0M174.9 111.36h0M114.45 109.3h0M118.35 109.3h0M122.25 109.3h0M126.15 109.3h0M130.05 109.3h0M133.95 109.3h0M137.85 109.3h0M141.75 109.3h0M145.65 109.3h0M149.55 109.3h0M153.45 109.3h0M157.35 109.3h0M161.25 109.3h0M165.15 109.3h0M169.05 109.3h0M172.95 109.3h0M116.4 107.24h0M120.3 107.24h0M124.2 107.24h0M128.1 107.24h0M132 107.24h0M135.9 107.24h0M139.8 107.24h0M143.7 107.24h0M147.6 107.24h0M151.5 107.24h0M155.4 107.24h0M159.3 107.24h0M163.2 107.24h0M167.1 107.24h0M171 107.24h0M174.9 107.24h0M114.45 105.18h0M118.35 105.18h0M122.25 105.18h0M126.15 105.18h0M130.05 105.18h0M133.95 105.18h0M137.85 105.18h0M141.75 105.18h0M145.65 105.18h0M149.55 105.18h0M153.45 105.18h0M157.35 105.18h0M161.25 105.18h0M165.15 105.18h0M169.05 105.18h0M172.95 105.18h0M116.4 103.12h0M120.3 103.12h0M124.2 103.12h0M128.1 103.12h0M132 103.12h0M135.9 103.12h0M139.8 103.12h0M143.7 103.12h0M147.6 103.12h0M151.5 103.12h0M155.4 103.12h0M159.3 103.12h0M163.2 103.12h0M167.1 103.12h0M171 103.12h0M174.9 103.12h0"/>
<rect x="113.5" y="101.5" width="64" height="42" fill="none" stroke="#666" stroke-width="1"/>
<rect x="188.5" y="101.5" width="65" height="42" fill="#fff"/>
<path class="d" d="M201.9 140.4h0M218.07 140.4h0M234.23 140.4h0M250.4 140.4h0M199.88 138.34h0M203.92 138.34h0M216.05 138.34h0M220.09 138.34h0M232.21 138.34h0M236.25 138.34h0M248.38 138.34h0M252.42 138.34h0M189.78 136.28h0M193.82 136.28h0M197.86 136.28h0M201.9 136.28h0M205.94 136.28h0M209.98 136.28h0M214.03 136.28h0M218.07 136.28h0M222.11 136.28h0M226.15 136.28h0M230.19 136.28h0M234.23 136.28h0M238.28 136.28h0M242.32 136.28h0M246.36 136.28h0M250.4 136.28h0M191.8 134.22h0M195.84 134.22h0M199.88 134.22h0M203.92 134.22h0M207.96 134.22h0M212 134.22h0M216.05 134.22h0M220.09 134.22h0M224.13 134.22h0M228.17 134.22h0M232.21 134.22h0M236.25 134.22h0M240.3 134.22h0M244.34 134.22h0M248.38 134.22h0M252.42 134.22h0M189.78 132.16h0M193.82 132.16h0M197.86 132.16h0M201.9 132.16h0M205.94 132.16h0M209.98 132.16h0M214.03 132.16h0M218.07 132.16h0M222.11 132.16h0M226.15 132.16h0M230.19 132.16h0M234.23 132.16h0M238.28 132.16h0M242.32 132.16h0M246.36 132.16h0M250.4 132.16h0M191.8 130.1h0M195.84 130.1h0M199.88 130.1h0M203.92 130.1h0M207.96 130.1h0M212 130.1h0M216.05 130.1h0M220.09 130.1h0M224.13 130.1h0M228.17 130.1h0M232.21 130.1h0M236.25 130.1h0M240.3 130.1h0M244.34 130.1h0M248.38 130.1h0M252.42 130.1h0M189.78 128.04h0M193.82 128.04h0M197.86 128.04h0M201.9 128.04h0M205.94 128.04h0M209.98 128.04h0M214.03 128.04h0M218.07 128.04h0M222.11 128.04h0M226.15 128.04h0M230.19 128.04h0M234.23 128.04h0M238.28 128.04h0M242.32 128.04h0M246.36 128.04h0M250.4 128.04h0M191.8 125.98h0M195.84 125.98h0M199.88 125.98h0M203.92 125.98h0M207.96 125.98h0M212 125.98h0M216.05 125.98h0M220.09 125.98h0M224.13 125.98h0M228.17 125.98h0M232.21 125.98h0M236.25 125.98h0M240.3 125.98h0M244.34 125.98h0M248.38 125.98h0M252.42 125.98h0M189.78 123.92h0M193.82 123.92h0M197.86 123.92h0M201.9 123.92h0M205.94 123.92h0M209.98 123.92h0M214.03 123.92h0M218.07 123.92h0M222.11 123.92h0M226.15 123.92h0M230.19 123.92h0M234.23 123.92h0M238.28 123.92h0M242.32 123.92h0M246.36 123.92h0M250.4 123.92h0M191.8 121.86h0M195.84 121.86h0M199.88 121.86h0M203.92 121.86h0M207.96 121.86h0M212 121.86h0M216.05 121.86h0M220.09 121.86h0M224.13 121.86h0M228.17 121.86h0M232.21 121.86h0M236.25 121.86h0M240.3 121.86h0M244.34 121.86h0M248.38 121.86h0M252.42 121.86h0M189.78 119.8h0M193.82 119.8h0M197.86 119.8h0M201.9 119.8h0M205.94 119.8h0M209.98 119.8h0M214.03 119.8h0M218.07 119.8h0M222.11 119.8h0M226.15 119.8h0M230.19 119.8h0M234.23 119.8h0M238.28 119.8h0M242.32 119.8h0M246.36 119.8h0M250.4 119.8h0M191.8 117.74h0M195.84 117.74h0M199.88 117.74h0M203.92 117.74h0M207.96 117.74h0M212 117.74h0M216.05 117.74h0M220.09 117.74h0M224.13 117.74h0M228.17 117.74h0M232.21 117.74h0M236.25 117.74h0M240.3 117.74h0M244.34 117.74h0M248.38 117.74h0M252.42 117.74h0M189.78 115.68h0M193.82 115.68h0M197.86 115.68h0M201.9 115.68h0M205.94 115.68h0M209.98 115.68h0M214.03 115.68h0M218.07 115.68h0M222.11 115.68h0M226.15 115.68h0M230.19 115.68h0M234.23 115.68h0M238.28 115.68h0M242.32 115.68h0M246.36 115.68h0M250.4 115.68h0M191.8 113.62h0M195.84 113.62h0M199.88 113.62h0M203.92 113.62h0M207.96 113.62h0M212 113.62h0M216.05 113.62h0M220.09 113.62h0M224.13 113.62h0M228.17 113.62h0M232.21 113.62h0M236.25 113.62h0M240.3 113.62h0M244.34 113.62h0M248.38 113.62h0M252.42 113.62h0M189.78 111.56h0M193.82 111.56h0M197.86 111.56h0M201.9 111.56h0M205.94 111.56h0M209.98 111.56h0M214.03 111.56h0M218.07 111.56h0M222.11 111.56h0M226.15 111.56h0M230.19 111.56h0M234.23 111.56h0M238.28 111.56h0M242.32 111.56h0M246.36 111.56h0M250.4 111.56h0M191.8 109.5h0M195.84 109.5h0M199.88 109.5h0M203.92 109.5h0M207.96 109.5h0M212 109.5h0M216.05 109.5h0M220.09 109.5h0M224.13 109.5h0M228.17 109.5h0M232.21 109.5h0M236.25 109.5h0M240.3 109.5h0M244.34 109.5h0M248.38 109.5h0M252.42 109.5h0M189.78 107.44h0M193.82 107.44h0M197.86 107.44h0M201.9 107.44h0M205.94 107.44h0M209.98 107.44h0M214.03 107.44h0M218.07 107.44h0M222.11 107.44h0M226.15 107.44h0M230.19 107.44h0M234.23 107.44h0M238.28 107.44h0M242.32 107.44h0M246.36 107.44h0M250.4 107.44h0M191.8 105.38h0M195.84 105.38h0M199.88 105.38h0M203.92 105.38h0M207.96 105.38h0M212 105.38h0M216.05 105.38h0M220.09 105.38h0M224.13 105.38h0M228.17 105.38h0M232.21 105.38h0M236.25 105.38h0M240.3 105.38h0M244.34 105.38h0M248.38 105.38h0M252.42 105.38h0M189.78 103.32h0M193.82 103.32h0M197.86 103.32h0M201.9 103.32h0M205.94 103.32h0M209.98 103.32h0M214.03 103.32h0M218.07 103.32h0M222.11 103.32h0M226.15 103.32h0M230.19 103.32h0M234.23 103.32h0M238.28 103.32h0M242.32 103.32h0M246.36 103.32h0M250.4 103.32h0"/>
<rect x="188.5" y="101.5" width="65" height="42" fill="none" stroke="#666" stroke-width="1"/>
<rect x="263.5" y="101.5" width="64" height="42" fill="#fff"/>
<path class="d" d="M266.7 141.8h0M282.57 141.8h0M298.43 141.8h0M314.3 141.8h0M264.72 139.74h0M268.68 139.74h0M280.58 139.74h0M284.55 139.74h0M296.45 139.74h0M300.42 139.74h0M312.32 139.74h0M316.28 139.74h0M266.7 137.68h0M270.67 137.68h0M278.6 137.68h0M282.57 137.68h0M286.53 137.68h0M294.47 137.68h0M298.43 137.68h0M302.4 137.68h0M310.33 137.68h0M314.3 137.68h0M318.27 137.68h0M326.2 137.68h0M264.72 135.62h0M268.68 135.62h0M272.65 135.62h0M276.62 135.62h0M280.58 135.62h0M284.55 135.62h0M288.52 135.62h0M292.48 135.62h0M296.45 135.62h0M300.42 135.62h0M304.38 135.62h0M308.35 135.62h0M312.32 135.62h0M316.28 135.62h0M320.25 135.62h0M324.22 135.62h0M266.7 133.56h0M270.67 133.56h0M274.63 133.56h0M278.6 133.56h0M282.57 133.56h0M286.53 133.56h0M290.5 133.56h0M294.47 133.56h0M298.43 133.56h0M302.4 133.56h0M306.37 133.56h0M310.33 133.56h0M314.3 133.56h0M318.27 133.56h0M322.23 133.56h0M326.2 133.56h0M264.72 131.5h0M268.68 131.5h0M272.65 131.5h0M276.62 131.5h0M280.58 131.5h0M284.55 131.5h0M288.52 131.5h0M292.48 131.5h0M296.45 131.5h0M300.42 131.5h0M304.38 131.5h0M308.35 131.5h0M312.32 131.5h0M316.28 131.5h0M320.25 131.5h0M324.22 131.5h0M266.7 129.44h0M270.67 129.44h0M274.63 129.44h0M278.6 129.44h0M282.57 129.44h0M286.53 129.44h0M290.5 129.44h0M294.47 129.44h0M298.43 129.44h0M302.4 129.44h0M306.37 129.44h0M310.33 129.44h0M314.3 129.44h0M318.27 129.44h0M322.23 129.44h0M326.2 129.44h0M264.72 127.38h0M268.68 127.38h0M272.65 127.38h0M276.62 127.38h0M280.58 127.38h0M284.55 127.38h0M288.52 127.38h0M292.48 127.38h0M296.45 127.38h0M300.42 127.38h0M304.38 127.38h0M308.35 127.38h0M312.32 127.38h0M316.28 127.38h0M320.25 127.38h0M324.22 127.38h0M266.7 125.32h0M270.67 125.32h0M274.63 125.32h0M278.6 125.32h0M282.57 125.32h0M286.53 125.32h0M290.5 125.32h0M294.47 125.32h0M298.43 125.32h0M302.4 125.32h0M306.37 125.32h0M310.33 125.32h0M314.3 125.32h0M318.27 125.32h0M322.23 125.32h0M326.2 125.32h0M264.72 123.26h0M268.68 123.26h0M272.65 123.26h0M276.62 123.26h0M280.58 123.26h0M284.55 123.26h0M288.52 123.26h0M292.48 123.26h0M296.45 123.26h0M300.42 123.26h0M304.38 123.26h0M308.35 123.26h0M312.32 123.26h0M316.28 123.26h0M320.25 123.26h0M324.22 123.26h0M266.7 121.2h0M270.67 121.2h0M274.63 121.2h0M278.6 121.2h0M282.57 121.2h0M286.53 121.2h0M290.5 121.2h0M294.47 121.2h0M298.43 121.2h0M302.4 121.2h0M306.37 121.2h0M310.33 121.2h0M314.3 121.2h0M318.27 121.2h0M322.23 121.2h0M326.2 121.2h0M264.72 119.14h0M268.68 119.14h0M272.65 119.14h0M276.62 119.14h0M280.58 119.14h0M284.55 119.14h0M288.52 119.14h0M292.48 119.14h0M296.45 119.14h0M300.42 119.14h0M304.38 119.14h0M308.35 119.14h0M312.32 119.14h0M316.28 119.14h0M320.25 119.14h0M324.22 119.14h0M266.7 117.08h0M270.67 117.08h0M274.63 117.08h0M278.6 117.08h0M282.57 117.08h0M286.53 117.08h0M290.5 117.08h0M294.47 117.08h0M298.43 117.08h0M302.4 117.08h0M306.37 117.08h0M310.33 117.08h0M314.3 117.08h0M318.27 117.08h0M322.23 117.08h0M326.2 117.08h0M264.72 115.02h0M268.68 115.02h0M272.65 115.02h0M276.62 115.02h0M280.58 115.02h0M284.55 115.02h0M288.52 115.02h0M292.48 115.02h0M296.45 115.02h0M300.42 115.02h0M304.38 115.02h0M308.35 115.02h0M312.32 115.02h0M316.28 115.02h0M320.25 115.02h0M324.22 115.02h0M266.7 112.96h0M270.67 112.96h0M274.63 112.96h0M278.6 112.96h0M282.57 112.96h0M286.53 112.96h0M290.5 112.96h0M294.47 112.96h0M298.43 112.96h0M302.4 112.96h0M306.37 112.96h0M310.33 112.96h0M314.3 112.96h0M318.27 112.96h0M322.23 112.96h0M326.2 112.96h0M264.72 110.9h0M268.68 110.9h0M272.65 110.9h0M276.62 110.9h0M280.58 110.9h0M284.55 110.9h0M288.52 110.9h0M292.48 110.9h0M296.45 110.9h0M300.42 110.9h0M304.38 110.9h0M308.35 110.9h0M312.32 110.9h0M316.28 110.9h0M320.25 110.9h0M324.22 110.9h0M266.7 108.84h0M270.67 108.84h0M274.63 108.84h0M278.6 108.84h0M282.57 108.84h0M286.53 108.84h0M290.5 108.84h0M294.47 108.84h0M298.43 108.84h0M302.4 108.84h0M306.37 108.84h0M310.33 108.84h0M314.3 108.84h0M318.27 108.84h0M322.23 108.84h0M326.2 108.84h0M264.72 106.78h0M268.68 106.78h0M272.65 106.78h0M276.62 106.78h0M280.58 106.78h0M284.55 106.78h0M288.52 106.78h0M292.48 106.78h0M296.45 106.78h0M300.42 106.78h0M304.38 106.78h0M308.35 106.78h0M312.32 106.78h0M316.28 106.78h0M320.25 106.78h0M324.22 106.78h0M266.7 104.72h0M270.67 104.72h0M274.63 104.72h0M278.6 104.72h0M282.57 104.72h0M286.53 104.72h0M290.5 104.72h0M294.47 104.72h0M298.43 104.72h0M302.4 104.72h0M306.37 104.72h0M310.33 104.72h0M314.3 104.72h0M318.27 104.72h0M322.23 104.72h0M326.2 104.72h0M264.72 102.66h0M268.68 102.66h0M272.65 102.66h0M276.62 102.66h0M280.58 102.66h0M284.55 102.66h0M288.52 102.66h0M292.48 102.66h0M296.45 102.66h0M300.42 102.66h0M304.38 102.66h0M308.35 102.66h0M312.32 102.66h0M316.28 102.66h0M320.25 102.66h0M324.22 102.66h0"/>
<rect x="263.5" y="101.5" width="64" height="42" fill="none" stroke="#666" stroke-width="1"/>
<rect x="341.5" y="101.5" width="64" height="42" fill="#fff"/>
<path class="d" d="M349.9 140h0M365.2 140h0M380.5 140h0M395.8 140h0M347.99 137.94h0M351.81 137.94h0M363.29 137.94h0M367.11 137.94h0M378.59 137.94h0M382.41 137.94h0M393.89 137.94h0M397.71 137.94h0M342.25 135.88h0M346.07 135.88h0M349.9 135.88h0M353.72 135.88h0M357.55 135.88h0M361.38 135.88h0M365.2 135.88h0M369.02 135.88h0M372.85 135.88h0M376.68 135.88h0M380.5 135.88h0M384.32 135.88h0M388.15 135.88h0M391.98 135.88h0M395.8 135.88h0M399.62 135.88h0M403.45 135.88h0M344.16 133.82h0M347.99 133.82h0M351.81 133.82h0M355.64 133.82h0M359.46 133.82h0M363.29 133.82h0M367.11 133.82h0M370.94 133.82h0M374.76 133.82h0M378.59 133.82h0M382.41 133.82h0M386.24 133.82h0M390.06 133.82h0M393.89 133.82h0M397.71 133.82h0M401.54 133.82h0M342.25 131.76h0M346.07 131.76h0M349.9 131.76h0M353.72 131.76h0M357.55 131.76h0M361.38 131.76h0M365.2 131.76h0M369.02 131.76h0M372.85 131.76h0M376.68 131.76h0M380.5 131.76h0M384.32 131.76h0M388.15 131.76h0M391.98 131.76h0M395.8 131.76h0M399.62 131.76h0M403.45 131.76h0M344.16 129.7h0M347.99 129.7h0M351.81 129.7h0M355.64 129.7h0M359.46 129.7h0M363.29 129.7h0M367.11 129.7h0M370.94 129.7h0M374.76 129.7h0M378.59 129.7h0M382.41 129.7h0M386.24 129.7h0M390.06 129.7h0M393.89 129.7h0M397.71 129.7h0M401.54 129.7h0M342.25 127.64h0M346.07 127.64h0M349.9 127.64h0M353.72 127.64h0M357.55 127.64h0M361.38 127.64h0M365.2 127.64h0M369.02 127.64h0M372.85 127.64h0M376.68 127.64h0M380.5 127.64h0M384.32 127.64h0M388.15 127.64h0M391.98 127.64h0M395.8 127.64h0M399.62 127.64h0M403.45 127.64h0M344.16 125.58h0M347.99 125.58h0M351.81 125.58h0M355.64 125.58h0M359.46 125.58h0M363.29 125.58h0M367.11 125.58h0M370.94 125.58h0M374.76 125.58h0M378.59 125.58h0M382.41 125.58h0M386.24 125.58h0M390.06 125.58h0M393.89 125.58h0M397.71 125.58h0M401.54 125.58h0M342.25 123.52h0M346.07 123.52h0M349.9 123.52h0M353.72 123.52h0M357.55 123.52h0M361.38 123.52h0M365.2 123.52h0M369.02 123.52h0M372.85 123.52h0M376.68 123.52h0M380.5 123.52h0M384.32 123.52h0M388.15 123.52h0M391.98 123.52h0M395.8 123.52h0M399.62 123.52h0M403.45 123.52h0M344.16 121.46h0M347.99 121.46h0M351.81 121.46h0M355.64 121.46h0M359.46 121.46h0M363.29 121.46h0M367.11 121.46h0M370.94 121.46h0M374.76 121.46h0M378.59 121.46h0M382.41 121.46h0M386.24 121.46h0M390.06 121.46h0M393.89 121.46h0M397.71 121.46h0M401.54 121.46h0M342.25 119.4h0M346.07 119.4h0M349.9 119.4h0M353.72 119.4h0M357.55 119.4h0M361.38 119.4h0M365.2 119.4h0M369.02 119.4h0M372.85 119.4h0M376.68 119.4h0M380.5 119.4h0M384.32 119.4h0M388.15 119.4h0M391.98 119.4h0M395.8 119.4h0M399.62 119.4h0M403.45 119.4h0M344.16 117.34h0M347.99 117.34h0M351.81 117.34h0M355.64 117.34h0M359.46 117.34h0M363.29 117.34h0M367.11 117.34h0M370.94 117.34h0M374.76 117.34h0M378.59 117.34h0M382.41 117.34h0M386.24 117.34h0M390.06 117.34h0M393.89 117.34h0M397.71 117.34h0M401.54 117.34h0M346.07 115.28h0M349.9 115.28h0M353.72 115.28h0M357.55 115.28h0M361.38 115.28h0M365.2 115.28h0M369.02 115.28h0M372.85 115.28h0M376.68 115.28h0M380.5 115.28h0M384.32 115.28h0M388.15 115.28h0M391.98 115.28h0M395.8 115.28h0M399.62 115.28h0M403.45 115.28h0M344.16 113.22h0M347.99 113.22h0M351.81 113.22h0M355.64 113.22h0M359.46 113.22h0M363.29 113.22h0M367.11 113.22h0M370.94 113.22h0M374.76 113.22h0M378.59 113.22h0M382.41 113.22h0M386.24 113.22h0M390.06 113.22h0M393.89 113.22h0M397.71 113.22h0M401.54 113.22h0M346.07 111.16h0M349.9 111.16h0M353.72 111.16h0M357.55 111.16h0M361.38 111.16h0M365.2 111.16h0M369.02 111.16h0M372.85 111.16h0M376.68 111.16h0M380.5 111.16h0M384.32 111.16h0M388.15 111.16h0M391.98 111.16h0M395.8 111.16h0M399.62 111.16h0M403.45 111.16h0M344.16 109.1h0M347.99 109.1h0M351.81 109.1h0M355.64 109.1h0M359.46 109.1h0M363.29 109.1h0M367.11 109.1h0M370.94 109.1h0M374.76 109.1h0M378.59 109.1h0M382.41 109.1h0M386.24 109.1h0M390.06 109.1h0M393.89 109.1h0M397.71 109.1h0M401.54 109.1h0M346.07 107.04h0M349.9 107.04h0M353.72 107.04h0M357.55 107.04h0M361.38 107.04h0M365.2 107.04h0M369.02 107.04h0M372.85 107.04h0M376.68 107.04h0M380.5 107.04h0M384.32 107.04h0M388.15 107.04h0M391.98 107.04h0M395.8 107.04h0M399.62 107.04h0M403.45 107.04h0M344.16 104.98h0M347.99 104.98h0M351.81 104.98h0M355.64 104.98h0M359.46 104.98h0M363.29 104.98h0M367.11 104.98h0M370.94 104.98h0M374.76 104.98h0M378.59 104.98h0M382.41 104.98h0M386.24 104.98h0M390.06 104.98h0M393.89 104.98h0M397.71 104.98h0M401.54 104.98h0M346.07 102.92h0M349.9 102.92h0M353.72 102.92h0M357.55 102.92h0M361.38 102.92h0M365.2 102.92h0M369.02 102.92h0M372.85 102.92h0M376.68 102.92h0M380.5 102.92h0M384.32 102.92h0M388.15 102.92h0M391.98 102.92h0M395.8 102.92h0M399.62 102.92h0M403.45 102.92h0"/>
<rect x="341.5" y="101.5" width="64" height="42" fill="none" stroke="#666" stroke-width="1"/>
<rect x="36.5" y="183.5" width="67" height="42" fill="#fff"/>
<path class="d" d="M46.5 224h0M63.03 224h0M79.57 224h0M96.1 224h0M44.43 221.94h0M48.57 221.94h0M60.97 221.94h0M65.1 221.94h0M77.5 221.94h0M81.63 221.94h0M94.03 221.94h0M98.17 221.94h0M42.37 219.88h0M46.5 219.88h0M50.63 219.88h0M58.9 219.88h0M63.03 219.88h0M67.17 219.88h0M75.43 219.88h0M79.57 219.88h0M83.7 219.88h0M91.97 219.88h0M96.1 219.88h0M100.23 219.88h0M40.3 217.82h0M44.43 217.82h0M48.57 217.82h0M52.7 217.82h0M56.83 217.82h0M60.97 217.82h0M65.1 217.82h0M69.23 217.82h0M73.37 217.82h0M77.5 217.82h0M81.63 217.82h0M85.77 217.82h0M89.9 217.82h0M94.03 217.82h0M98.17 217.82h0M102.3 217.82h0M38.23 215.76h0M42.37 215.76h0M46.5 215.76h0M50.63 215.76h0M54.77 215.76h0M58.9 215.76h0M63.03 215.76h0M67.17 215.76h0M71.3 215.76h0M75.43 215.76h0M79.57 215.76h0M83.7 215.76h0M87.83 215.76h0M91.97 215.76h0M96.1 215.76h0M100.23 215.76h0M40.3 213.7h0M44.43 213.7h0M48.57 213.7h0M52.7 213.7h0M56.83 213.7h0M60.97 213.7h0M65.1 213.7h0M69.23 213.7h0M73.37 213.7h0M77.5 213.7h0M81.63 213.7h0M85.77 213.7h0M89.9 213.7h0M94.03 213.7h0M98.17 213.7h0M102.3 213.7h0M38.23 211.64h0M42.37 211.64h0M46.5 211.64h0M50.63 211.64h0M54.77 211.64h0M58.9 211.64h0M63.03 211.64h0M67.17 211.64h0M71.3 211.64h0M75.43 211.64h0M79.57 211.64h0M83.7 211.64h0M87.83 211.64h0M91.97 211.64h0M96.1 211.64h0M100.23 211.64h0M40.3 209.58h0M44.43 209.58h0M48.57 209.58h0M52.7 209.58h0M56.83 209.58h0M60.97 209.58h0M65.1 209.58h0M69.23 209.58h0M73.37 209.58h0M77.5 209.58h0M81.63 209.58h0M85.77 209.58h0M89.9 209.58h0M94.03 209.58h0M98.17 209.58h0M102.3 209.58h0M38.23 207.52h0M42.37 207.52h0M46.5 207.52h0M50.63 207.52h0M54.77 207.52h0M58.9 207.52h0M63.03 207.52h0M67.17 207.52h0M71.3 207.52h0M75.43 207.52h0M79.57 207.52h0M83.7 207.52h0M87.83 207.52h0M91.97 207.52h0M96.1 207.52h0M100.23 207.52h0M40.3 205.46h0M44.43 205.46h0M48.57 205.46h0M52.7 205.46h0M56.83 205.46h0M60.97 205.46h0M65.1 205.46h0M69.23 205.46h0M73.37 205.46h0M77.5 205.46h0M81.63 205.46h0M85.77 205.46h0M89.9 205.46h0M94.03 205.46h0M98.17 205.46h0M102.3 205.46h0M38.23 203.4h0M42.37 203.4h0M46.5 203.4h0M50.63 203.4h0M54.77 203.4h0M58.9 203.4h0M63.03 203.4h0M67.17 203.4h0M71.3 203.4h0M75.43 203.4h0M79.57 203.4h0M83.7 203.4h0M87.83 203.4h0M91.97 203.4h0M96.1 203.4h0M100.23 203.4h0M40.3 201.34h0M44.43 201.34h0M48.57 201.34h0M52.7 201.34h0M56.83 201.34h0M60.97 201.34h0M65.1 201.34h0M69.23 201.34h0M73.37 201.34h0M77.5 201.34h0M81.63 201.34h0M85.77 201.34h0M89.9 201.34h0M94.03 201.34h0M98.17 201.34h0M102.3 201.34h0M38.23 199.28h0M42.37 199.28h0M46.5 199.28h0M50.63 199.28h0M54.77 199.28h0M58.9 199.28h0M63.03 199.28h0M67.17 199.28h0M71.3 199.28h0M75.43 199.28h0M79.57 199.28h0M83.7 199.28h0M87.83 199.28h0M91.97 199.28h0M96.1 199.28h0M100.23 199.28h0M40.3 197.22h0M44.43 197.22h0M48.57 197.22h0M52.7 197.22h0M56.83 197.22h0M60.97 197.22h0M65.1 197.22h0M69.23 197.22h0M73.37 197.22h0M77.5 197.22h0M81.63 197.22h0M85.77 197.22h0M89.9 197.22h0M94.03 197.22h0M98.17 197.22h0M102.3 197.22h0M38.23 195.16h0M42.37 195.16h0M46.5 195.16h0M50.63 195.16h0M54.77 195.16h0M58.9 195.16h0M63.03 195.16h0M67.17 195.16h0M71.3 195.16h0M75.43 195.16h0M79.57 195.16h0M83.7 195.16h0M87.83 195.16h0M91.97 195.16h0M96.1 195.16h0M100.23 195.16h0M40.3 193.1h0M44.43 193.1h0M48.57 193.1h0M52.7 193.1h0M56.83 193.1h0M60.97 193.1h0M65.1 193.1h0M69.23 193.1h0M73.37 193.1h0M77.5 193.1h0M81.63 193.1h0M85.77 193.1h0M89.9 193.1h0M94.03 193.1h0M98.17 193.1h0M102.3 193.1h0M38.23 191.04h0M42.37 191.04h0M46.5 191.04h0M50.63 191.04h0M54.77 191.04h0M58.9 191.04h0M63.03 191.04h0M67.17 191.04h0M71.3 191.04h0M75.43 191.04h0M79.57 191.04h0M83.7 191.04h0M87.83 191.04h0M91.97 191.04h0M96.1 191.04h0M100.23 191.04h0M40.3 188.98h0M44.43 188.98h0M48.57 188.98h0M52.7 188.98h0M56.83 188.98h0M60.97 188.98h0M65.1 188.98h0M69.23 188.98h0M73.37 188.98h0M77.5 188.98h0M81.63 188.98h0M85.77 188.98h0M89.9 188.98h0M94.03 188.98h0M98.17 188.98h0M102.3 188.98h0M38.23 186.92h0M42.37 186.92h0M46.5 186.92h0M50.63 186.92h0M54.77 186.92h0M58.9 186.92h0M63.03 186.92h0M67.17 186.92h0M71.3 186.92h0M75.43 186.92h0M79.57 186.92h0M83.7 186.92h0M87.83 186.92h0M91.97 186.92h0M96.1 186.92h0M100.23 186.92h0M40.3 184.86h0M44.43 184.86h0M48.57 184.86h0M52.7 184.86h0M56.83 184.86h0M60.97 184.86h0M65.1 184.86h0M69.23 184.86h0M73.37 184.86h0M77.5 184.86h0M81.63 184.86h0M85.77 184.86h0M89.9 184.86h0M94.03 184.86h0M98.17 184.86h0M102.3 184.86h0"/>
<rect x="36.5" y="183.5" width="67" height="42" fill="none" stroke="#666" stroke-width="1"/>
<rect x="113.5" y="183.5" width="64" height="42" fill="#fff"/>
<path class="d" d="M124.5 224h0M140 224h0M155.5 224h0M171 224h0M122.56 221.94h0M126.44 221.94h0M138.06 221.94h0M141.94 221.94h0M153.56 221.94h0M157.44 221.94h0M169.06 221.94h0M172.94 221.94h0M120.62 219.88h0M124.5 219.88h0M128.38 219.88h0M136.12 219.88h0M140 219.88h0M143.88 219.88h0M151.62 219.88h0M155.5 219.88h0M159.38 219.88h0M167.12 219.88h0M171 219.88h0M174.88 219.88h0M114.81 217.82h0M118.69 217.82h0M122.56 217.82h0M126.44 217.82h0M130.31 217.82h0M134.19 217.82h0M138.06 217.82h0M141.94 217.82h0M145.81 217.82h0M149.69 217.82h0M153.56 217.82h0M157.44 217.82h0M161.31 217.82h0M165.19 217.82h0M169.06 217.82h0M172.94 217.82h0M116.75 215.76h0M120.62 215.76h0M124.5 215.76h0M128.38 215.76h0M132.25 215.76h0M136.12 215.76h0M140 215.76h0M143.88 215.76h0M147.75 215.76h0M151.62 215.76h0M155.5 215.76h0M159.38 215.76h0M163.25 215.76h0M167.12 215.76h0M171 215.76h0M174.88 215.76h0M114.81 213.7h0M118.69 213.7h0M122.56 213.7h0M126.44 213.7h0M130.31 213.7h0M134.19 213.7h0M138.06 213.7h0M141.94 213.7h0M145.81 213.7h0M149.69 213.7h0M153.56 213.7h0M157.44 213.7h0M161.31 213.7h0M165.19 213.7h0M169.06 213.7h0M172.94 213.7h0M116.75 211.64h0M120.62 211.64h0M124.5 211.64h0M128.38 211.64h0M132.25 211.64h0M136.12 211.64h0M140 211.64h0M143.88 211.64h0M147.75 211.64h0M151.62 211.64h0M155.5 211.64h0M159.38 211.64h0M163.25 211.64h0M167.12 211.64h0M171 211.64h0M174.88 211.64h0M114.81 209.58h0M118.69 209.58h0M122.56 209.58h0M126.44 209.58h0M130.31 209.58h0M134.19 209.58h0M138.06 209.58h0M141.94 209.58h0M145.81 209.58h0M149.69 209.58h0M153.56 209.58h0M157.44 209.58h0M161.31 209.58h0M165.19 209.58h0M169.06 209.58h0M172.94 209.58h0M116.75 207.52h0M120.62 207.52h0M124.5 207.52h0M128.38 207.52h0M132.25 207.52h0M136.12 207.52h0M140 207.52h0M143.88 207.52h0M147.75 207.52h0M151.62 207.52h0M155.5 207.52h0M159.38 207.52h0M163.25 207.52h0M167.12 207.52h0M171 207.52h0M174.88 207.52h0M114.81 205.46h0M118.69 205.46h0M122.56 205.46h0M126.44 205.46h0M130.31 205.46h0M134.19 205.46h0M138.06 205.46h0M141.94 205.46h0M145.81 205.46h0M149.69 205.46h0M153.56 205.46h0M157.44 205.46h0M161.31 205.46h0M165.19 205.46h0M169.06 205.46h0M172.94 205.46h0M116.75 203.4h0M120.62 203.4h0M124.5 203.4h0M128.38 203.4h0M132.25 203.4h0M136.12 203.4h0M140 203.4h0M143.88 203.4h0M147.75 203.4h0M151.62 203.4h0M155.5 203.4h0M159.38 203.4h0M163.25 203.4h0M167.12 203.4h0M171 203.4h0M174.88 203.4h0M114.81 201.34h0M118.69 201.34h0M122.56 201.34h0M126.44 201.34h0M130.31 201.34h0M134.19 201.34h0M138.06 201.34h0M141.94 201.34h0M145.81 201.34h0M149.69 201.34h0M153.56 201.34h0M157.44 201.34h0M161.31 201.34h0M165.19 201.34h0M169.06 201.34h0M172.94 201.34h0M116.75 199.28h0M120.62 199.28h0M124.5 199.28h0M128.38 199.28h0M132.25 199.28h0M136.12 199.28h0M140 199.28h0M143.88 199.28h0M147.75 199.28h0M151.62 199.28h0M155.5 199.28h0M159.38 199.28h0M163.25 199.28h0M167.12 199.28h0M171 199.28h0M174.88 199.28h0M114.81 197.22h0M118.69 197.22h0M122.56 197.22h0M126.44 197.22h0M130.31 197.22h0M134.19 197.22h0M138.06 197.22h0M141.94 197.22h0M145.81 197.22h0M149.69 197.22h0M153.56 197.22h0M157.44 197.22h0M161.31 197.22h0M165.19 197.22h0M169.06 197.22h0M172.94 197.22h0M116.75 195.16h0M120.62 195.16h0M124.5 195.16h0M128.38 195.16h0M132.25 195.16h0M136.12 195.16h0M140 195.16h0M143.88 195.16h0M147.75 195.16h0M151.62 195.16h0M155.5 195.16h0M159.38 195.16h0M163.25 195.16h0M167.12 195.16h0M171 195.16h0M174.88 195.16h0M114.81 193.1h0M118.69 193.1h0M122.56 193.1h0M126.44 193.1h0M130.31 193.1h0M134.19 193.1h0M138.06 193.1h0M141.94 193.1h0M145.81 193.1h0M149.69 193.1h0M153.56 193.1h0M157.44 193.1h0M161.31 193.1h0M165.19 193.1h0M169.06 193.1h0M172.94 193.1h0M116.75 191.04h0M120.62 191.04h0M124.5 191.04h0M128.38 191.04h0M132.25 191.04h0M136.12 191.04h0M140 191.04h0M143.88 191.04h0M147.75 191.04h0M151.62 191.04h0M155.5 191.04h0M159.38 191.04h0M163.25 191.04h0M167.12 191.04h0M171 191.04h0M174.88 191.04h0M114.81 188.98h0M118.69 188.98h0M122.56 188.98h0M126.44 188.98h0M130.31 188.98h0M134.19 188.98h0M138.06 188.98h0M141.94 188.98h0M145.81 188.98h0M149.69 188.98h0M153.56 188.98h0M157.44 188.98h0M161.31 188.98h0M165.19 188.98h0M169.06 188.98h0M172.94 188.98h0M116.75 186.92h0M120.62 186.92h0M124.5 186.92h0M128.38 186.92h0M132.25 186.92h0M136.12 186.92h0M140 186.92h0M143.88 186.92h0M147.75 186.92h0M151.62 186.92h0M155.5 186.92h0M159.38 186.92h0M163.25 186.92h0M167.12 186.92h0M171 186.92h0M174.88 186.92h0M114.81 184.86h0M118.69 184.86h0M122.56 184.86h0M126.44 184.86h0M130.31 184.86h0M134.19 184.86h0M138.06 184.86h0M141.94 184.86h0M145.81 184.86h0M149.69 184.86h0M153.56 184.86h0M157.44 184.86h0M161.31 184.86h0M165.19 184.86h0M169.06 184.86h0M172.94 184.86h0"/>
<rect x="113.5" y="183.5" width="64" height="42" fill="none" stroke="#666" stroke-width="1"/>
<rect x="188.5" y="183.5" width="65" height="42" fill="#fff"/>
<path class="d" d="M203.6 224h0M219.27 224h0M234.93 224h0M250.6 224h0M189.89 221.94h0M201.64 221.94h0M205.56 221.94h0M217.31 221.94h0M221.22 221.94h0M232.97 221.94h0M236.89 221.94h0M248.64 221.94h0M191.85 219.88h0M199.68 219.88h0M203.6 219.88h0M207.52 219.88h0M215.35 219.88h0M219.27 219.88h0M223.18 219.88h0M231.02 219.88h0M234.93 219.88h0M238.85 219.88h0M246.68 219.88h0M250.6 219.88h0M189.89 217.82h0M193.81 217.82h0M197.72 217.82h0M201.64 217.82h0M205.56 217.82h0M209.47 217.82h0M213.39 217.82h0M217.31 217.82h0M221.22 217.82h0M225.14 217.82h0M229.06 217.82h0M232.97 217.82h0M236.89 217.82h0M240.81 217.82h0M244.72 217.82h0M248.64 217.82h0M191.85 215.76h0M195.77 215.76h0M199.68 215.76h0M203.6 215.76h0M207.52 215.76h0M211.43 215.76h0M215.35 215.76h0M219.27 215.76h0M223.18 215.76h0M227.1 215.76h0M231.02 215.76h0M234.93 215.76h0M238.85 215.76h0M242.77 215.76h0M246.68 215.76h0M250.6 215.76h0M189.89 213.7h0M193.81 213.7h0M197.72 213.7h0M201.64 213.7h0M205.56 213.7h0M209.47 213.7h0M213.39 213.7h0M217.31 213.7h0M221.22 213.7h0M225.14 213.7h0M229.06 213.7h0M232.97 213.7h0M236.89 213.7h0M240.81 213.7h0M244.72 213.7h0M248.64 213.7h0M191.85 211.64h0M195.77 211.64h0M199.68 211.64h0M203.6 211.64h0M207.52 211.64h0M211.43 211.64h0M215.35 211.64h0M219.27 211.64h0M223.18 211.64h0M227.1 211.64h0M231.02 211.64h0M234.93 211.64h0M238.85 211.64h0M242.77 211.64h0M246.68 211.64h0M250.6 211.64h0M189.89 209.58h0M193.81 209.58h0M197.72 209.58h0M201.64 209.58h0M205.56 209.58h0M209.47 209.58h0M213.39 209.58h0M217.31 209.58h0M221.22 209.58h0M225.14 209.58h0M229.06 209.58h0M232.97 209.58h0M236.89 209.58h0M240.81 209.58h0M244.72 209.58h0M248.64 209.58h0M191.85 207.52h0M195.77 207.52h0M199.68 207.52h0M203.6 207.52h0M207.52 207.52h0M211.43 207.52h0M215.35 207.52h0M219.27 207.52h0M223.18 207.52h0M227.1 207.52h0M231.02 207.52h0M234.93 207.52h0M238.85 207.52h0M242.77 207.52h0M246.68 207.52h0M250.6 207.52h0M189.89 205.46h0M193.81 205.46h0M197.72 205.46h0M201.64 205.46h0M205.56 205.46h0M209.47 205.46h0M213.39 205.46h0M217.31 205.46h0M221.22 205.46h0M225.14 205.46h0M229.06 205.46h0M232.97 205.46h0M236.89 205.46h0M240.81 205.46h0M244.72 205.46h0M248.64 205.46h0M191.85 203.4h0M195.77 203.4h0M199.68 203.4h0M203.6 203.4h0M207.52 203.4h0M211.43 203.4h0M215.35 203.4h0M219.27 203.4h0M223.18 203.4h0M227.1 203.4h0M231.02 203.4h0M234.93 203.4h0M238.85 203.4h0M242.77 203.4h0M246.68 203.4h0M250.6 203.4h0M189.89 201.34h0M193.81 201.34h0M197.72 201.34h0M201.64 201.34h0M205.56 201.34h0M209.47 201.34h0M213.39 201.34h0M217.31 201.34h0M221.22 201.34h0M225.14 201.34h0M229.06 201.34h0M232.97 201.34h0M236.89 201.34h0M240.81 201.34h0M244.72 201.34h0M248.64 201.34h0M191.85 199.28h0M195.77 199.28h0M199.68 199.28h0M203.6 199.28h0M207.52 199.28h0M211.43 199.28h0M215.35 199.28h0M219.27 199.28h0M223.18 199.28h0M227.1 199.28h0M231.02 199.28h0M234.93 199.28h0M238.85 199.28h0M242.77 199.28h0M246.68 199.28h0M250.6 199.28h0M189.89 197.22h0M193.81 197.22h0M197.72 197.22h0M201.64 197.22h0M205.56 197.22h0M209.47 197.22h0M213.39 197.22h0M217.31 197.22h0M221.22 197.22h0M225.14 197.22h0M229.06 197.22h0M232.97 197.22h0M236.89 197.22h0M240.81 197.22h0M244.72 197.22h0M248.64 197.22h0M191.85 195.16h0M195.77 195.16h0M199.68 195.16h0M203.6 195.16h0M207.52 195.16h0M211.43 195.16h0M215.35 195.16h0M219.27 195.16h0M223.18 195.16h0M227.1 195.16h0M231.02 195.16h0M234.93 195.16h0M238.85 195.16h0M242.77 195.16h0M246.68 195.16h0M250.6 195.16h0M189.89 193.1h0M193.81 193.1h0M197.72 193.1h0M201.64 193.1h0M205.56 193.1h0M209.47 193.1h0M213.39 193.1h0M217.31 193.1h0M221.22 193.1h0M225.14 193.1h0M229.06 193.1h0M232.97 193.1h0M236.89 193.1h0M240.81 193.1h0M244.72 193.1h0M248.64 193.1h0M191.85 191.04h0M195.77 191.04h0M199.68 191.04h0M203.6 191.04h0M207.52 191.04h0M211.43 191.04h0M215.35 191.04h0M219.27 191.04h0M223.18 191.04h0M227.1 191.04h0M231.02 191.04h0M234.93 191.04h0M238.85 191.04h0M242.77 191.04h0M246.68 191.04h0M250.6 191.04h0M189.89 188.98h0M193.81 188.98h0M197.72 188.98h0M201.64 188.98h0M205.56 188.98h0M209.47 188.98h0M213.39 188.98h0M217.31 188.98h0M221.22 188.98h0M225.14 188.98h0M229.06 188.98h0M232.97 188.98h0M236.89 188.98h0M240.81 188.98h0M244.72 188.98h0M248.64 188.98h0M252.56 188.98h0M191.85 186.92h0M195.77 186.92h0M199.68 186.92h0M203.6 186.92h0M207.52 186.92h0M211.43 186.92h0M215.35 186.92h0M219.27 186.92h0M223.18 186.92h0M227.1 186.92h0M231.02 186.92h0M234.93 186.92h0M238.85 186.92h0M242.77 186.92h0M246.68 186.92h0M250.6 186.92h0M189.89 184.86h0M193.81 184.86h0M197.72 184.86h0M201.64 184.86h0M205.56 184.86h0M209.47 184.86h0M213.39 184.86h0M217.31 184.86h0M221.22 184.86h0M225.14 184.86h0M229.06 184.86h0M232.97 184.86h0M236.89 184.86h0M240.81 184.86h0M244.72 184.86h0M248.64 184.86h0M252.56 184.86h0"/>
<rect x="188.5" y="183.5" width="65" height="42" fill="none" stroke="#666" stroke-width="1"/>
<rect x="263.5" y="183.5" width="64" height="42" fill="#fff"/>
<path class="d" d="M266.7 224h0M282.57 224h0M298.43 224h0M314.3 224h0M264.72 221.94h0M268.68 221.94h0M280.58 221.94h0M284.55 221.94h0M296.45 221.94h0M300.42 221.94h0M312.32 221.94h0M316.28 221.94h0M266.7 219.88h0M270.67 219.88h0M278.6 219.88h0M282.57 219.88h0M286.53 219.88h0M294.47 219.88h0M298.43 219.88h0M302.4 219.88h0M310.33 219.88h0M314.3 219.88h0M318.27 219.88h0M326.2 219.88h0M264.72 217.82h0M268.68 217.82h0M272.65 217.82h0M276.62 217.82h0M280.58 217.82h0M284.55 217.82h0M288.52 217.82h0M292.48 217.82h0M296.45 217.82h0M300.42 217.82h0M304.38 217.82h0M308.35 217.82h0M312.32 217.82h0M316.28 217.82h0M320.25 217.82h0M324.22 217.82h0M266.7 215.76h0M270.67 215.76h0M274.63 215.76h0M278.6 215.76h0M282.57 215.76h0M286.53 215.76h0M290.5 215.76h0M294.47 215.76h0M298.43 215.76h0M302.4 215.76h0M306.37 215.76h0M310.33 215.76h0M314.3 215.76h0M318.27 215.76h0M322.23 215.76h0M326.2 215.76h0M264.72 213.7h0M268.68 213.7h0M272.65 213.7h0M276.62 213.7h0M280.58 213.7h0M284.55 213.7h0M288.52 213.7h0M292.48 213.7h0M296.45 213.7h0M300.42 213.7h0M304.38 213.7h0M308.35 213.7h0M312.32 213.7h0M316.28 213.7h0M320.25 213.7h0M324.22 213.7h0M266.7 211.64h0M270.67 211.64h0M274.63 211.64h0M278.6 211.64h0M282.57 211.64h0M286.53 211.64h0M290.5 211.64h0M294.47 211.64h0M298.43 211.64h0M302.4 211.64h0M306.37 211.64h0M310.33 211.64h0M314.3 211.64h0M318.27 211.64h0M322.23 211.64h0M326.2 211.64h0M264.72 209.58h0M268.68 209.58h0M272.65 209.58h0M276.62 209.58h0M280.58 209.58h0M284.55 209.58h0M288.52 209.58h0M292.48 209.58h0M296.45 209.58h0M300.42 209.58h0M304.38 209.58h0M308.35 209.58h0M312.32 209.58h0M316.28 209.58h0M320.25 209.58h0M324.22 209.58h0M266.7 207.52h0M270.67 207.52h0M274.63 207.52h0M278.6 207.52h0M282.57 207.52h0M286.53 207.52h0M290.5 207.52h0M294.47 207.52h0M298.43 207.52h0M302.4 207.52h0M306.37 207.52h0M310.33 207.52h0M314.3 207.52h0M318.27 207.52h0M322.23 207.52h0M326.2 207.52h0M264.72 205.46h0M268.68 205.46h0M272.65 205.46h0M276.62 205.46h0M280.58 205.46h0M284.55 205.46h0M288.52 205.46h0M292.48 205.46h0M296.45 205.46h0M300.42 205.46h0M304.38 205.46h0M308.35 205.46h0M312.32 205.46h0M316.28 205.46h0M320.25 205.46h0M324.22 205.46h0M266.7 203.4h0M270.67 203.4h0M274.63 203.4h0M278.6 203.4h0M282.57 203.4h0M286.53 203.4h0M290.5 203.4h0M294.47 203.4h0M298.43 203.4h0M302.4 203.4h0M306.37 203.4h0M310.33 203.4h0M314.3 203.4h0M318.27 203.4h0M322.23 203.4h0M326.2 203.4h0M264.72 201.34h0M268.68 201.34h0M272.65 201.34h0M276.62 201.34h0M280.58 201.34h0M284.55 201.34h0M288.52 201.34h0M292.48 201.34h0M296.45 201.34h0M300.42 201.34h0M304.38 201.34h0M308.35 201.34h0M312.32 201.34h0M316.28 201.34h0M320.25 201.34h0M324.22 201.34h0M266.7 199.28h0M270.67 199.28h0M274.63 199.28h0M278.6 199.28h0M282.57 199.28h0M286.53 199.28h0M290.5 199.28h0M294.47 199.28h0M298.43 199.28h0M302.4 199.28h0M306.37 199.28h0M310.33 199.28h0M314.3 199.28h0M318.27 199.28h0M322.23 199.28h0M326.2 199.28h0M264.72 197.22h0M268.68 197.22h0M272.65 197.22h0M276.62 197.22h0M280.58 197.22h0M284.55 197.22h0M288.52 197.22h0M292.48 197.22h0M296.45 197.22h0M300.42 197.22h0M304.38 197.22h0M308.35 197.22h0M312.32 197.22h0M316.28 197.22h0M320.25 197.22h0M324.22 197.22h0M266.7 195.16h0M270.67 195.16h0M274.63 195.16h0M278.6 195.16h0M282.57 195.16h0M286.53 195.16h0M290.5 195.16h0M294.47 195.16h0M298.43 195.16h0M302.4 195.16h0M306.37 195.16h0M310.33 195.16h0M314.3 195.16h0M318.27 195.16h0M322.23 195.16h0M326.2 195.16h0M264.72 193.1h0M268.68 193.1h0M272.65 193.1h0M276.62 193.1h0M280.58 193.1h0M284.55 193.1h0M288.52 193.1h0M292.48 193.1h0M296.45 193.1h0M300.42 193.1h0M304.38 193.1h0M308.35 193.1h0M312.32 193.1h0M316.28 193.1h0M320.25 193.1h0M324.22 193.1h0M266.7 191.04h0M270.67 191.04h0M274.63 191.04h0M278.6 191.04h0M282.57 191.04h0M286.53 191.04h0M290.5 191.04h0M294.47 191.04h0M298.43 191.04h0M302.4 191.04h0M306.37 191.04h0M310.33 191.04h0M314.3 191.04h0M318.27 191.04h0M322.23 191.04h0M326.2 191.04h0M264.72 188.98h0M268.68 188.98h0M272.65 188.98h0M276.62 188.98h0M280.58 188.98h0M284.55 188.98h0M288.52 188.98h0M292.48 188.98h0M296.45 188.98h0M300.42 188.98h0M304.38 188.98h0M308.35 188.98h0M312.32 188.98h0M316.28 188.98h0M320.25 188.98h0M324.22 188.98h0M266.7 186.92h0M270.67 186.92h0M274.63 186.92h0M278.6 186.92h0M282.57 186.92h0M286.53 186.92h0M290.5 186.92h0M294.47 186.92h0M298.43 186.92h0M302.4 186.92h0M306.37 186.92h0M310.33 186.92h0M314.3 186.92h0M318.27 186.92h0M322.23 186.92h0M326.2 186.92h0M264.72 184.86h0M268.68 184.86h0M272.65 184.86h0M276.62 184.86h0M280.58 184.86h0M284.55 184.86h0M288.52 184.86h0M292.48 184.86h0M296.45 184.86h0M300.42 184.86h0M304.38 184.86h0M308.35 184.86h0M312.32 184.86h0M316.28 184.86h0M320.25 184.86h0M324.22 184.86h0"/>
<rect x="263.5" y="183.5" width="64" height="42" fill="none" stroke="#666" stroke-width="1"/>
<rect x="341.5" y="183.5" width="64" height="42" fill="#fff"/>
<path class="d" d="M349.9 224h0M365.77 224h0M381.63 224h0M397.5 224h0M347.92 221.94h0M351.88 221.94h0M363.78 221.94h0M367.75 221.94h0M379.65 221.94h0M383.62 221.94h0M395.52 221.94h0M399.48 221.94h0M345.93 219.88h0M349.9 219.88h0M353.87 219.88h0M361.8 219.88h0M365.77 219.88h0M369.73 219.88h0M377.67 219.88h0M381.63 219.88h0M385.6 219.88h0M393.53 219.88h0M397.5 219.88h0M401.47 219.88h0M343.95 217.82h0M347.92 217.82h0M351.88 217.82h0M355.85 217.82h0M359.82 217.82h0M363.78 217.82h0M367.75 217.82h0M371.72 217.82h0M375.68 217.82h0M379.65 217.82h0M383.62 217.82h0M387.58 217.82h0M391.55 217.82h0M395.52 217.82h0M399.48 217.82h0M403.45 217.82h0M345.93 215.76h0M349.9 215.76h0M353.87 215.76h0M357.83 215.76h0M361.8 215.76h0M365.77 215.76h0M369.73 215.76h0M373.7 215.76h0M377.67 215.76h0M381.63 215.76h0M385.6 215.76h0M389.57 215.76h0M393.53 215.76h0M397.5 215.76h0M401.47 215.76h0M343.95 213.7h0M347.92 213.7h0M351.88 213.7h0M355.85 213.7h0M359.82 213.7h0M363.78 213.7h0M367.75 213.7h0M371.72 213.7h0M375.68 213.7h0M379.65 213.7h0M383.62 213.7h0M387.58 213.7h0M391.55 213.7h0M395.52 213.7h0M399.48 213.7h0M403.45 213.7h0M345.93 211.64h0M349.9 211.64h0M353.87 211.64h0M357.83 211.64h0M361.8 211.64h0M365.77 211.64h0M369.73 211.64h0M373.7 211.64h0M377.67 211.64h0M381.63 211.64h0M385.6 211.64h0M389.57 211.64h0M393.53 211.64h0M397.5 211.64h0M401.47 211.64h0M343.95 209.58h0M347.92 209.58h0M351.88 209.58h0M355.85 209.58h0M359.82 209.58h0M363.78 209.58h0M367.75 209.58h0M371.72 209.58h0M375.68 209.58h0M379.65 209.58h0M383.62 209.58h0M387.58 209.58h0M391.55 209.58h0M395.52 209.58h0M399.48 209.58h0M403.45 209.58h0M345.93 207.52h0M349.9 207.52h0M353.87 207.52h0M357.83 207.52h0M361.8 207.52h0M365.77 207.52h0M369.73 207.52h0M373.7 207.52h0M377.67 207.52h0M381.63 207.52h0M385.6 207.52h0M389.57 207.52h0M393.53 207.52h0M397.5 207.52h0M401.47 207.52h0M343.95 205.46h0M347.92 205.46h0M351.88 205.46h0M355.85 205.46h0M359.82 205.46h0M363.78 205.46h0M367.75 205.46h0M371.72 205.46h0M375.68 205.46h0M379.65 205.46h0M383.62 205.46h0M387.58 205.46h0M391.55 205.46h0M395.52 205.46h0M399.48 205.46h0M403.45 205.46h0M345.93 203.4h0M349.9 203.4h0M353.87 203.4h0M357.83 203.4h0M361.8 203.4h0M365.77 203.4h0M369.73 203.4h0M373.7 203.4h0M377.67 203.4h0M381.63 203.4h0M385.6 203.4h0M389.57 203.4h0M393.53 203.4h0M397.5 203.4h0M401.47 203.4h0M343.95 201.34h0M347.92 201.34h0M351.88 201.34h0M355.85 201.34h0M359.82 201.34h0M363.78 201.34h0M367.75 201.34h0M371.72 201.34h0M375.68 201.34h0M379.65 201.34h0M383.62 201.34h0M387.58 201.34h0M391.55 201.34h0M395.52 201.34h0M399.48 201.34h0M403.45 201.34h0M345.93 199.28h0M349.9 199.28h0M353.87 199.28h0M357.83 199.28h0M361.8 199.28h0M365.77 199.28h0M369.73 199.28h0M373.7 199.28h0M377.67 199.28h0M381.63 199.28h0M385.6 199.28h0M389.57 199.28h0M393.53 199.28h0M397.5 199.28h0M401.47 199.28h0M343.95 197.22h0M347.92 197.22h0M351.88 197.22h0M355.85 197.22h0M359.82 197.22h0M363.78 197.22h0M367.75 197.22h0M371.72 197.22h0M375.68 197.22h0M379.65 197.22h0M383.62 197.22h0M387.58 197.22h0M391.55 197.22h0M395.52 197.22h0M399.48 197.22h0M403.45 197.22h0M345.93 195.16h0M349.9 195.16h0M353.87 195.16h0M357.83 195.16h0M361.8 195.16h0M365.77 195.16h0M369.73 195.16h0M373.7 195.16h0M377.67 195.16h0M381.63 195.16h0M385.6 195.16h0M389.57 195.16h0M393.53 195.16h0M397.5 195.16h0M401.47 195.16h0M343.95 193.1h0M347.92 193.1h0M351.88 193.1h0M355.85 193.1h0M359.82 193.1h0M363.78 193.1h0M367.75 193.1h0M371.72 193.1h0M375.68 193.1h0M379.65 193.1h0M383.62 193.1h0M387.58 193.1h0M391.55 193.1h0M395.52 193.1h0M399.48 193.1h0M403.45 193.1h0M345.93 191.04h0M349.9 191.04h0M353.87 191.04h0M357.83 191.04h0M361.8 191.04h0M365.77 191.04h0M369.73 191.04h0M373.7 191.04h0M377.67 191.04h0M381.63 191.04h0M385.6 191.04h0M389.57 191.04h0M393.53 191.04h0M397.5 191.04h0M401.47 191.04h0M343.95 188.98h0M347.92 188.98h0M351.88 188.98h0M355.85 188.98h0M359.82 188.98h0M363.78 188.98h0M367.75 188.98h0M371.72 188.98h0M375.68 188.98h0M379.65 188.98h0M383.62 188.98h0M387.58 188.98h0M391.55 188.98h0M395.52 188.98h0M399.48 188.98h0M403.45 188.98h0M345.93 186.92h0M349.9 186.92h0M353.87 186.92h0M357.83 186.92h0M361.8 186.92h0M365.77 186.92h0M369.73 186.92h0M373.7 186.92h0M377.67 186.92h0M381.63 186.92h0M385.6 186.92h0M389.57 186.92h0M393.53 186.92h0M397.5 186.92h0M401.47 186.92h0M343.95 184.86h0M347.92 184.86h0M351.88 184.86h0M355.85 184.86h0M359.82 184.86h0M363.78 184.86h0M367.75 184.86h0M371.72 184.86h0M375.68 184.86h0M379.65 184.86h0M383.62 184.86h0M387.58 184.86h0M391.55 184.86h0M395.52 184.86h0M399.48 184.86h0M403.45 184.86h0"/>
<rect x="341.5" y="183.5" width="64" height="42" fill="none" stroke="#666" stroke-width="1"/>
<polyline class="g" points="76.9,60.7 80,60.7 84,60.8 87.5,61.7 90,60.9 93,60.6 96,60.4"/>
<polyline class="g" points="152.9,60.4 156,60.7 160,61.1 162.9,61.5 166,61 169,60.6 170.9,60.4"/>
<polyline class="g" points="229.2,59.8 233.6,60.5 236.6,61.2 241.2,61.2 243.5,61.9 245.4,59.9 247.7,60.3"/>
<polyline class="g" points="306.2,61 310.7,61 313.2,62 314.5,60.5 316.4,61.3 319.1,60.2 325.6,60"/>
<polyline class="g" points="385.8,60.4 390.7,61.4 393.8,61.8 397.2,61 399.9,60.3 402.2,61.2 404.6,60.3"/>
<polyline class="g" points="78.2,143.1 79.3,141.3 81.3,140.2 82.7,140.4 84.5,138.6 87.1,138.6 87.8,140.7 89.8,140.9 90.7,139.6 92.5,139.3"/>
<polyline class="g" points="115.6,140.8 119,141.5"/>
<polyline class="g" points="164.5,142.2 166.2,141 168.3,139.6 168.9,141.5 171.1,140.8 172.9,142 175.2,143 176.3,140.6"/>
<polyline class="g" points="192.3,140.9 194.8,140.1 196.6,141.4 198.8,141.8 201.5,143.1 203.7,141.3 206.4,140.7 209,140.7"/>
<polyline class="g" points="284.2,142.2 286.7,142.2 288.5,141.1 290.7,141.3 292,140.7 293.4,142.2 295.1,143.1 296.9,142.5 299.6,143 300.5,141.6"/>
<polyline class="g" points="370,138.2 371.6,139.6 373.6,139.5 375.1,140.4 377.4,139.6 377.8,141.8 379.4,141.5 380.5,143.6 382.3,142.8 383.6,140.9"/>
<polyline class="g" points="75.3,223.9 76.7,222.3 78.9,222 79.8,221.2 82.9,221.5 83.1,223.3 85.6,223.2 85.8,221.7 88.7,221.4 90,221.9 91.6,222.1 92.3,220.6"/>
<polyline class="g" points="114.4,221.5 116.5,220.8 118.2,222 120,221.3 121.3,222.8 123.6,222 124.5,223.5 126.2,221.5 127.6,222.5 129.8,220.8"/>
<polyline class="g" points="176.2,222.5 176.4,222.5"/>
<polyline class="g" points="206.2,221.2 207.8,222.1 210,221.5 211.3,223.2 213.1,221.7 214.5,223.3 216.7,221.9 219.4,220.6 221.6,222 223.8,221 225.2,222.2"/>
<polyline class="g" points="301.6,222.1 303.6,220.8 305.6,222.1 307.3,220.8 308.9,222.2 310.9,220.8 312.7,222 314,220.6 316.3,222 318.9,221.8"/>
<polyline class="g" points="342.2,219.6 344,221 345.3,222.7 347.2,222.3 348.7,224.3"/>
<polyline class="g" points="395.7,220.9 397.8,222.5 400.4,222.5 402.5,221.5 404.6,221.5"/>
<rect x="116" y="44.6" width="58.6" height="8.8" fill="#c6c6c6"/>
<text x="116.4" y="51.8" font-size="10.2" fill="#000" textLength="58" lengthAdjust="spacingAndGlyphs">Sliding slowly</text>
<rect x="114" y="125.3" width="61.8" height="10.3" fill="#c6c6c6"/>
<text x="114.5" y="133.6" font-size="10.2" fill="#000" textLength="61.2" lengthAdjust="spacingAndGlyphs">Sliding quickly</text>
<rect x="114.8" y="208.4" width="61.2" height="10.2" fill="#c6c6c6"/>
<text x="115" y="216.6" font-size="10.2" fill="#000" textLength="60.6" lengthAdjust="spacingAndGlyphs">Sliding quickly</text>
<line x1="141.8" y1="60.5" x2="148.1" y2="60.5" stroke="#000" stroke-width="1.0"/><polygon fill="#000" points="152,60.5 147.6,58.5 147.6,62.5"/>
<line x1="156.3" y1="141.8" x2="160.4" y2="141.8" stroke="#8a8a8a" stroke-width="1.2"/><polygon fill="#000" points="163.8,141.8 159.9,139.8 159.9,143.8"/>
<line x1="164.9" y1="222" x2="170" y2="222" stroke="#8a8a8a" stroke-width="1.2"/><polygon fill="#000" points="174.3,222 169.5,219.9 169.5,224.1"/>
<path d="M185.4 15.9H408.8M185.6 17.6V228.4M408.4 16V228.4M185.6 228.4H408.8" fill="none" stroke="#555" stroke-width="1.2" stroke-dasharray="5.7 1.9"/>
<polygon fill="#000010" points="296.8,9.2 302.2,12.4 299.4,12.4 299.4,15.5 294.2,15.5 294.2,12.4 291.5,12.4"/>
<text x="258.9" y="6.8" font-size="9.4" textLength="76.3" lengthAdjust="spacingAndGlyphs">Continuous sliding</text>
<text x="0" y="40" font-size="16">(a)</text>
<text x="409.4" y="40" font-size="16">(b)</text>
<text transform="translate(31,42.2) rotate(-90)" text-anchor="middle" font-size="13">0 Å</text>
<text transform="translate(31,123) rotate(-90)" text-anchor="middle" font-size="13">4 Å</text>
<text transform="translate(31,204.2) rotate(-90)" text-anchor="middle" font-size="13">6 Å</text>
<text x="68.75" y="242.2" text-anchor="middle" font-size="14">0 ps</text>
<text x="146" y="242.2" text-anchor="middle" font-size="14">25 ps</text>
<text x="221.3" y="242.2" text-anchor="middle" font-size="14">50 ps</text>
<text x="296" y="242.2" text-anchor="middle" font-size="14">100 ps</text>
<text x="373.8" y="242.2" text-anchor="middle" font-size="14">150 ps</text>
<path d="M451.2 21.7H683.6V208.3M452.1 21V209.1H684.4" fill="none" stroke="#000" stroke-width="1.6"/>
<path d="M448.2 195H452M448.2 168.33H452M448.2 141.67H452M448.2 115H452M448.2 88.33H452M448.2 61.66H452M448.2 35H452M449.8 181.67H452M449.8 155H452M449.8 128.33H452M449.8 101.67H452M449.8 75H452M449.8 48.33H452M465.6 208.3V211.8M499.17 208.3V211.8M532.74 208.3V211.8M566.3 208.3V211.8M599.87 208.3V211.8M633.44 208.3V211.8M667 208.3V211.8M482.38 208.3V210.2M515.95 208.3V210.2M549.52 208.3V210.2M583.09 208.3V210.2M616.65 208.3V210.2M650.22 208.3V210.2" stroke="#000" stroke-width="1.3" fill="none"/>
<text x="445.3" y="198.9" text-anchor="end" font-size="11.5">0</text>
<text x="445.3" y="172.23" text-anchor="end" font-size="11.5">10</text>
<text x="445.3" y="145.57" text-anchor="end" font-size="11.5">20</text>
<text x="445.3" y="118.9" text-anchor="end" font-size="11.5">30</text>
<text x="445.3" y="92.23" text-anchor="end" font-size="11.5">40</text>
<text x="445.3" y="65.56" text-anchor="end" font-size="11.5">50</text>
<text x="445.3" y="38.9" text-anchor="end" font-size="11.5">60</text>
<text x="465.6" y="224.4" text-anchor="middle" font-size="11.5">0</text>
<text x="499.17" y="224.4" text-anchor="middle" font-size="11.5">25</text>
<text x="532.74" y="224.4" text-anchor="middle" font-size="11.5">50</text>
<text x="566.3" y="224.4" text-anchor="middle" font-size="11.5">75</text>
<text x="599.87" y="224.4" text-anchor="middle" font-size="11.5">100</text>
<text x="633.44" y="224.4" text-anchor="middle" font-size="11.5">125</text>
<text x="667" y="224.4" text-anchor="middle" font-size="11.5">150</text>
<text x="544.3" y="243.6" font-size="12.2">Time (ps)</text>
<text transform="translate(430.6,116.4) rotate(-90)" text-anchor="middle" font-size="12">ΔX (Å)</text>
<polyline fill="none" stroke="#7fd17f" stroke-width="1.1" points="465.6,195 499.17,192.2 532.74,191 599.87,184.33 667,182.31"/>
<polyline fill="none" stroke="#e06a6a" stroke-width="1.1" points="465.6,195 499.17,170.81 532.74,142.31 599.87,110.2 667,97.67"/>
<polyline fill="none" stroke="#4a88e0" stroke-width="1.1" points="465.6,195 499.17,143.27 532.74,105.93 599.87,67.4 667,34.46"/>
<rect x="463.4" y="192.8" width="4.4" height="4.4" fill="#44bb44"/>
<rect x="496.97" y="190" width="4.4" height="4.4" fill="#44bb44"/>
<rect x="530.53" y="188.8" width="4.4" height="4.4" fill="#44bb44"/>
<rect x="597.67" y="182.13" width="4.4" height="4.4" fill="#44bb44"/>
<rect x="664.8" y="180.11" width="4.4" height="4.4" fill="#44bb44"/>
<circle cx="465.6" cy="195" r="2.4" fill="#d84545"/>
<circle cx="499.17" cy="170.81" r="2.4" fill="#d84545"/>
<circle cx="532.74" cy="142.31" r="2.4" fill="#d84545"/>
<circle cx="599.87" cy="110.2" r="2.4" fill="#d84545"/>
<circle cx="667" cy="97.67" r="2.4" fill="#d84545"/>
<polygon fill="#2a6fd8" points="465.6,192 462.6,197.2 468.6,197.2"/>
<polygon fill="#2a6fd8" points="499.17,140.27 496.17,145.47 502.17,145.47"/>
<polygon fill="#2a6fd8" points="532.74,102.93 529.74,108.13 535.74,108.13"/>
<polygon fill="#2a6fd8" points="599.87,64.4 596.87,69.6 602.87,69.6"/>
<polygon fill="#2a6fd8" points="667,31.46 664,36.66 670,36.66"/>
<line x1="460.5" y1="35" x2="487" y2="35" stroke="#7fd17f" stroke-width="1.1"/>
<rect x="471" y="32.8" width="4.4" height="4.4" fill="#44bb44"/>
<text x="492.4" y="38.9" font-size="11">0 Å</text>
<line x1="460.5" y1="49.1" x2="487" y2="49.1" stroke="#e06a6a" stroke-width="1.1"/>
<circle cx="473.2" cy="49.1" r="2.4" fill="#d84545"/>
<text x="492.4" y="53" font-size="11">4 Å</text>
<line x1="460.5" y1="63.3" x2="487" y2="63.3" stroke="#4a88e0" stroke-width="1.1"/>
<polygon fill="#2a6fd8" points="473.2,60.3 470.2,65.5 476.2,65.5"/>
<text x="492.4" y="67.2" font-size="11">6 Å</text>
</svg>
</body></html>
